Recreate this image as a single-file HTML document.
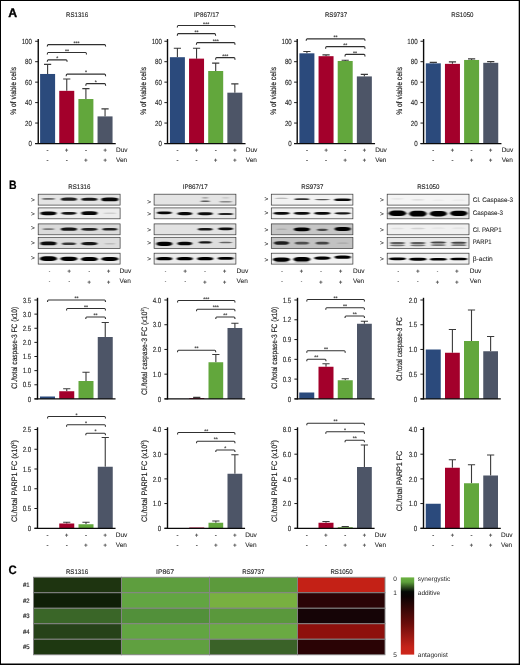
<!DOCTYPE html>
<html lang="en"><head><meta charset="utf-8"><title>Figure</title>
<style>html,body{margin:0;padding:0;background:#fff}body{width:520px;height:665px;overflow:hidden}svg{display:block}</style></head>
<body>
<svg width="520" height="665" viewBox="0 0 520 665" font-family="'Liberation Sans', sans-serif" text-rendering="geometricPrecision">
<defs><filter id="b1" x="-20%" y="-60%" width="140%" height="220%"><feGaussianBlur stdDeviation="1.0 0.5"/></filter><linearGradient id="cb" x1="0" y1="0" x2="0" y2="1"><stop offset="0" stop-color="#6cb241"/><stop offset="0.06" stop-color="#5da03a"/><stop offset="0.185" stop-color="#050805"/><stop offset="0.25" stop-color="#0c0203"/><stop offset="0.6" stop-color="#6a0d0b"/><stop offset="0.9" stop-color="#c4231a"/><stop offset="1" stop-color="#cf271b"/></linearGradient></defs>
<rect x="0" y="0" width="520" height="665" fill="#fff"/>
<text x="8.20" y="16.90" font-size="12.3" text-anchor="start" font-weight="bold" fill="#000"  stroke="#000" stroke-width="0.35">A</text>
<text x="9.10" y="189.00" font-size="12.2" text-anchor="start" font-weight="bold" fill="#000"  textLength="7.58" lengthAdjust="spacingAndGlyphs" stroke="#000" stroke-width="0.2">B</text>
<text x="8.40" y="574.20" font-size="12.3" text-anchor="start" font-weight="bold" fill="#000"  textLength="8.26" lengthAdjust="spacingAndGlyphs" stroke="#000" stroke-width="0.2">C</text>
<path d="M47.60,73.97 V64.36 M44.00,64.36 H51.20" stroke="#3a3a3a" stroke-width="1.1" fill="none"/>
<rect x="40.10" y="73.97" width="15.00" height="69.53" fill="#2b4a7c"/>
<path d="M66.75,90.84 V78.98 M63.15,78.98 H70.35" stroke="#3a3a3a" stroke-width="1.1" fill="none"/>
<rect x="59.25" y="90.84" width="15.00" height="52.66" fill="#a3002b"/>
<path d="M85.90,99.02 V88.59 M82.30,88.59 H89.50" stroke="#3a3a3a" stroke-width="1.1" fill="none"/>
<rect x="78.40" y="99.02" width="15.00" height="44.48" fill="#62a73c"/>
<path d="M105.05,116.40 V108.84 M101.45,108.84 H108.65" stroke="#3a3a3a" stroke-width="1.1" fill="none"/>
<rect x="97.55" y="116.40" width="15.00" height="27.10" fill="#4d5567"/>
<path d="M38.25,39.05 V144.00" stroke="#0a0a0a" stroke-width="1.4" fill="none"/>
<path d="M35.15,143.50 H115.75" stroke="#0a0a0a" stroke-width="1.25" fill="none"/>
<path d="M35.15,143.50 H38.25" stroke="#111" stroke-width="0.95" fill="none"/>
<text x="32.00" y="146.15" font-size="7.4" text-anchor="end" font-weight="normal" fill="#1e1e1e"  textLength="3.46" lengthAdjust="spacingAndGlyphs" stroke="#1e1e1e" stroke-width="0.1">0</text>
<path d="M35.15,123.05 H38.25" stroke="#111" stroke-width="0.95" fill="none"/>
<text x="32.00" y="125.70" font-size="7.4" text-anchor="end" font-weight="normal" fill="#1e1e1e"  textLength="6.91" lengthAdjust="spacingAndGlyphs" stroke="#1e1e1e" stroke-width="0.1">20</text>
<path d="M35.15,102.60 H38.25" stroke="#111" stroke-width="0.95" fill="none"/>
<text x="32.00" y="105.25" font-size="7.4" text-anchor="end" font-weight="normal" fill="#1e1e1e"  textLength="6.91" lengthAdjust="spacingAndGlyphs" stroke="#1e1e1e" stroke-width="0.1">40</text>
<path d="M35.15,82.15 H38.25" stroke="#111" stroke-width="0.95" fill="none"/>
<text x="32.00" y="84.80" font-size="7.4" text-anchor="end" font-weight="normal" fill="#1e1e1e"  textLength="6.91" lengthAdjust="spacingAndGlyphs" stroke="#1e1e1e" stroke-width="0.1">60</text>
<path d="M35.15,61.70 H38.25" stroke="#111" stroke-width="0.95" fill="none"/>
<text x="32.00" y="64.35" font-size="7.4" text-anchor="end" font-weight="normal" fill="#1e1e1e"  textLength="6.91" lengthAdjust="spacingAndGlyphs" stroke="#1e1e1e" stroke-width="0.1">80</text>
<path d="M35.15,41.25 H38.25" stroke="#111" stroke-width="0.95" fill="none"/>
<text x="32.00" y="43.90" font-size="7.4" text-anchor="end" font-weight="normal" fill="#1e1e1e"  textLength="10.37" lengthAdjust="spacingAndGlyphs" stroke="#1e1e1e" stroke-width="0.1">100</text>
<path d="M47.30,46.60 Q47.30,44.60 48.20,44.60 L104.70,44.60 Q105.60,44.60 105.60,46.60" fill="none" stroke="#303030" stroke-width="1.2"/>
<text x="76.45" y="44.80" font-size="5.2" text-anchor="middle" font-weight="normal" fill="#333"  stroke="#333" stroke-width="0.15">***</text>
<path d="M47.30,54.50 Q47.30,52.50 48.20,52.50 L85.60,52.50 Q86.50,52.50 86.50,54.50" fill="none" stroke="#303030" stroke-width="1.2"/>
<text x="66.90" y="52.70" font-size="5.2" text-anchor="middle" font-weight="normal" fill="#333"  stroke="#333" stroke-width="0.15">**</text>
<path d="M47.30,61.80 Q47.30,59.80 48.20,59.80 L66.20,59.80 Q67.10,59.80 67.10,61.80" fill="none" stroke="#303030" stroke-width="1.2"/>
<text x="57.20" y="60.00" font-size="5.2" text-anchor="middle" font-weight="normal" fill="#333"  stroke="#333" stroke-width="0.15">*</text>
<path d="M66.20,76.20 Q66.20,74.20 67.10,74.20 L104.70,74.20 Q105.60,74.20 105.60,76.20" fill="none" stroke="#303030" stroke-width="1.2"/>
<text x="85.90" y="74.40" font-size="5.2" text-anchor="middle" font-weight="normal" fill="#333"  stroke="#333" stroke-width="0.15">*</text>
<path d="M85.80,85.70 Q85.80,83.70 86.70,83.70 L104.70,83.70 Q105.60,83.70 105.60,85.70" fill="none" stroke="#303030" stroke-width="1.2"/>
<text x="95.70" y="83.90" font-size="5.2" text-anchor="middle" font-weight="normal" fill="#333"  stroke="#333" stroke-width="0.15">*</text>
<text x="77.10" y="17.00" font-size="6.7" text-anchor="middle" font-weight="normal" fill="#1e1e1e" textLength="22.1" lengthAdjust="spacingAndGlyphs" stroke="#1e1e1e" stroke-width="0.12">RS1316</text>
<text transform="translate(15.80,90.80) rotate(-90)" font-size="8.1" text-anchor="middle" fill="#1e1e1e" textLength="47.9" lengthAdjust="spacingAndGlyphs" stroke="#1e1e1e" stroke-width="0.18">% of viable cells</text>
<text x="47.60" y="152.20" font-size="6.0" text-anchor="middle" font-weight="normal" fill="#444"  stroke="#444" stroke-width="0.12">-</text>
<text x="66.75" y="152.42" font-size="5.6" text-anchor="middle" font-weight="normal" fill="#3a3a3a"  stroke="#3a3a3a" stroke-width="0.28">+</text>
<text x="85.90" y="152.20" font-size="6.0" text-anchor="middle" font-weight="normal" fill="#444"  stroke="#444" stroke-width="0.12">-</text>
<text x="105.05" y="152.42" font-size="5.6" text-anchor="middle" font-weight="normal" fill="#3a3a3a"  stroke="#3a3a3a" stroke-width="0.28">+</text>
<text x="47.60" y="162.20" font-size="6.0" text-anchor="middle" font-weight="normal" fill="#444"  stroke="#444" stroke-width="0.12">-</text>
<text x="66.75" y="162.20" font-size="6.0" text-anchor="middle" font-weight="normal" fill="#444"  stroke="#444" stroke-width="0.12">-</text>
<text x="85.90" y="162.42" font-size="5.6" text-anchor="middle" font-weight="normal" fill="#3a3a3a"  stroke="#3a3a3a" stroke-width="0.28">+</text>
<text x="105.05" y="162.42" font-size="5.6" text-anchor="middle" font-weight="normal" fill="#3a3a3a"  stroke="#3a3a3a" stroke-width="0.28">+</text>
<text x="115.95" y="152.20" font-size="6.5" text-anchor="start" font-weight="normal" fill="#1e1e1e"  stroke="#1e1e1e" stroke-width="0.08">Duv</text>
<text x="115.95" y="162.10" font-size="6.5" text-anchor="start" font-weight="normal" fill="#1e1e1e"  stroke="#1e1e1e" stroke-width="0.08">Ven</text>
<path d="M177.40,57.20 V48.20 M173.80,48.20 H181.00" stroke="#3a3a3a" stroke-width="1.1" fill="none"/>
<rect x="169.90" y="57.20" width="15.00" height="86.30" fill="#2b4a7c"/>
<path d="M196.55,58.63 V48.20 M192.95,48.20 H200.15" stroke="#3a3a3a" stroke-width="1.1" fill="none"/>
<rect x="189.05" y="58.63" width="15.00" height="84.87" fill="#a3002b"/>
<path d="M215.70,71.00 V63.13 M212.10,63.13 H219.30" stroke="#3a3a3a" stroke-width="1.1" fill="none"/>
<rect x="208.20" y="71.00" width="15.00" height="72.50" fill="#62a73c"/>
<path d="M234.85,92.68 V83.89 M231.25,83.89 H238.45" stroke="#3a3a3a" stroke-width="1.1" fill="none"/>
<rect x="227.35" y="92.68" width="15.00" height="50.82" fill="#4d5567"/>
<path d="M167.50,39.05 V144.00" stroke="#0a0a0a" stroke-width="1.4" fill="none"/>
<path d="M164.40,143.50 H245.55" stroke="#0a0a0a" stroke-width="1.25" fill="none"/>
<path d="M164.40,143.50 H167.50" stroke="#111" stroke-width="0.95" fill="none"/>
<text x="162.00" y="146.15" font-size="7.4" text-anchor="end" font-weight="normal" fill="#1e1e1e"  textLength="3.46" lengthAdjust="spacingAndGlyphs" stroke="#1e1e1e" stroke-width="0.1">0</text>
<path d="M164.40,123.05 H167.50" stroke="#111" stroke-width="0.95" fill="none"/>
<text x="162.00" y="125.70" font-size="7.4" text-anchor="end" font-weight="normal" fill="#1e1e1e"  textLength="6.91" lengthAdjust="spacingAndGlyphs" stroke="#1e1e1e" stroke-width="0.1">20</text>
<path d="M164.40,102.60 H167.50" stroke="#111" stroke-width="0.95" fill="none"/>
<text x="162.00" y="105.25" font-size="7.4" text-anchor="end" font-weight="normal" fill="#1e1e1e"  textLength="6.91" lengthAdjust="spacingAndGlyphs" stroke="#1e1e1e" stroke-width="0.1">40</text>
<path d="M164.40,82.15 H167.50" stroke="#111" stroke-width="0.95" fill="none"/>
<text x="162.00" y="84.80" font-size="7.4" text-anchor="end" font-weight="normal" fill="#1e1e1e"  textLength="6.91" lengthAdjust="spacingAndGlyphs" stroke="#1e1e1e" stroke-width="0.1">60</text>
<path d="M164.40,61.70 H167.50" stroke="#111" stroke-width="0.95" fill="none"/>
<text x="162.00" y="64.35" font-size="7.4" text-anchor="end" font-weight="normal" fill="#1e1e1e"  textLength="6.91" lengthAdjust="spacingAndGlyphs" stroke="#1e1e1e" stroke-width="0.1">80</text>
<path d="M164.40,41.25 H167.50" stroke="#111" stroke-width="0.95" fill="none"/>
<text x="162.00" y="43.90" font-size="7.4" text-anchor="end" font-weight="normal" fill="#1e1e1e"  textLength="10.37" lengthAdjust="spacingAndGlyphs" stroke="#1e1e1e" stroke-width="0.1">100</text>
<path d="M177.30,27.50 Q177.30,25.50 178.20,25.50 L234.10,25.50 Q235.00,25.50 235.00,27.50" fill="none" stroke="#303030" stroke-width="1.2"/>
<text x="206.15" y="25.70" font-size="5.2" text-anchor="middle" font-weight="normal" fill="#333"  stroke="#333" stroke-width="0.15">***</text>
<path d="M177.30,35.70 Q177.30,33.70 178.20,33.70 L214.70,33.70 Q215.60,33.70 215.60,35.70" fill="none" stroke="#303030" stroke-width="1.2"/>
<text x="196.45" y="33.90" font-size="5.2" text-anchor="middle" font-weight="normal" fill="#333"  stroke="#333" stroke-width="0.15">**</text>
<path d="M196.40,44.70 Q196.40,42.70 197.30,42.70 L234.10,42.70 Q235.00,42.70 235.00,44.70" fill="none" stroke="#303030" stroke-width="1.2"/>
<text x="215.70" y="42.90" font-size="5.2" text-anchor="middle" font-weight="normal" fill="#333"  stroke="#333" stroke-width="0.15">***</text>
<path d="M215.60,59.70 Q215.60,57.70 216.50,57.70 L234.10,57.70 Q235.00,57.70 235.00,59.70" fill="none" stroke="#303030" stroke-width="1.2"/>
<text x="225.30" y="57.90" font-size="5.2" text-anchor="middle" font-weight="normal" fill="#333"  stroke="#333" stroke-width="0.15">***</text>
<text x="206.60" y="17.00" font-size="6.7" text-anchor="middle" font-weight="normal" fill="#1e1e1e" textLength="25.0" lengthAdjust="spacingAndGlyphs" stroke="#1e1e1e" stroke-width="0.12">IP867/17</text>
<text transform="translate(145.80,90.80) rotate(-90)" font-size="8.1" text-anchor="middle" fill="#1e1e1e" textLength="47.9" lengthAdjust="spacingAndGlyphs" stroke="#1e1e1e" stroke-width="0.18">% of viable cells</text>
<text x="177.40" y="152.20" font-size="6.0" text-anchor="middle" font-weight="normal" fill="#444"  stroke="#444" stroke-width="0.12">-</text>
<text x="196.55" y="152.42" font-size="5.6" text-anchor="middle" font-weight="normal" fill="#3a3a3a"  stroke="#3a3a3a" stroke-width="0.28">+</text>
<text x="215.70" y="152.20" font-size="6.0" text-anchor="middle" font-weight="normal" fill="#444"  stroke="#444" stroke-width="0.12">-</text>
<text x="234.85" y="152.42" font-size="5.6" text-anchor="middle" font-weight="normal" fill="#3a3a3a"  stroke="#3a3a3a" stroke-width="0.28">+</text>
<text x="177.40" y="162.20" font-size="6.0" text-anchor="middle" font-weight="normal" fill="#444"  stroke="#444" stroke-width="0.12">-</text>
<text x="196.55" y="162.20" font-size="6.0" text-anchor="middle" font-weight="normal" fill="#444"  stroke="#444" stroke-width="0.12">-</text>
<text x="215.70" y="162.42" font-size="5.6" text-anchor="middle" font-weight="normal" fill="#3a3a3a"  stroke="#3a3a3a" stroke-width="0.28">+</text>
<text x="234.85" y="162.42" font-size="5.6" text-anchor="middle" font-weight="normal" fill="#3a3a3a"  stroke="#3a3a3a" stroke-width="0.28">+</text>
<text x="245.75" y="152.20" font-size="6.5" text-anchor="start" font-weight="normal" fill="#1e1e1e"  stroke="#1e1e1e" stroke-width="0.08">Duv</text>
<text x="245.75" y="162.10" font-size="6.5" text-anchor="start" font-weight="normal" fill="#1e1e1e"  stroke="#1e1e1e" stroke-width="0.08">Ven</text>
<path d="M306.90,53.32 V51.48 M303.30,51.48 H310.50" stroke="#3a3a3a" stroke-width="1.1" fill="none"/>
<rect x="299.40" y="53.32" width="15.00" height="90.18" fill="#2b4a7c"/>
<path d="M326.05,56.18 V54.85 M322.45,54.85 H329.65" stroke="#3a3a3a" stroke-width="1.1" fill="none"/>
<rect x="318.55" y="56.18" width="15.00" height="87.32" fill="#a3002b"/>
<path d="M345.20,60.98 V60.27 M341.60,60.27 H348.80" stroke="#3a3a3a" stroke-width="1.1" fill="none"/>
<rect x="337.70" y="60.98" width="15.00" height="82.52" fill="#62a73c"/>
<path d="M364.35,76.42 V74.38 M360.75,74.38 H367.95" stroke="#3a3a3a" stroke-width="1.1" fill="none"/>
<rect x="356.85" y="76.42" width="15.00" height="67.08" fill="#4d5567"/>
<path d="M297.20,39.05 V144.00" stroke="#0a0a0a" stroke-width="1.4" fill="none"/>
<path d="M294.10,143.50 H375.05" stroke="#0a0a0a" stroke-width="1.25" fill="none"/>
<path d="M294.10,143.50 H297.20" stroke="#111" stroke-width="0.95" fill="none"/>
<text x="291.80" y="146.15" font-size="7.4" text-anchor="end" font-weight="normal" fill="#1e1e1e"  textLength="3.46" lengthAdjust="spacingAndGlyphs" stroke="#1e1e1e" stroke-width="0.1">0</text>
<path d="M294.10,123.05 H297.20" stroke="#111" stroke-width="0.95" fill="none"/>
<text x="291.80" y="125.70" font-size="7.4" text-anchor="end" font-weight="normal" fill="#1e1e1e"  textLength="6.91" lengthAdjust="spacingAndGlyphs" stroke="#1e1e1e" stroke-width="0.1">20</text>
<path d="M294.10,102.60 H297.20" stroke="#111" stroke-width="0.95" fill="none"/>
<text x="291.80" y="105.25" font-size="7.4" text-anchor="end" font-weight="normal" fill="#1e1e1e"  textLength="6.91" lengthAdjust="spacingAndGlyphs" stroke="#1e1e1e" stroke-width="0.1">40</text>
<path d="M294.10,82.15 H297.20" stroke="#111" stroke-width="0.95" fill="none"/>
<text x="291.80" y="84.80" font-size="7.4" text-anchor="end" font-weight="normal" fill="#1e1e1e"  textLength="6.91" lengthAdjust="spacingAndGlyphs" stroke="#1e1e1e" stroke-width="0.1">60</text>
<path d="M294.10,61.70 H297.20" stroke="#111" stroke-width="0.95" fill="none"/>
<text x="291.80" y="64.35" font-size="7.4" text-anchor="end" font-weight="normal" fill="#1e1e1e"  textLength="6.91" lengthAdjust="spacingAndGlyphs" stroke="#1e1e1e" stroke-width="0.1">80</text>
<path d="M294.10,41.25 H297.20" stroke="#111" stroke-width="0.95" fill="none"/>
<text x="291.80" y="43.90" font-size="7.4" text-anchor="end" font-weight="normal" fill="#1e1e1e"  textLength="10.37" lengthAdjust="spacingAndGlyphs" stroke="#1e1e1e" stroke-width="0.1">100</text>
<path d="M306.20,40.80 Q306.20,38.80 307.10,38.80 L364.10,38.80 Q365.00,38.80 365.00,40.80" fill="none" stroke="#303030" stroke-width="1.2"/>
<text x="335.60" y="39.00" font-size="5.2" text-anchor="middle" font-weight="normal" fill="#333"  stroke="#333" stroke-width="0.15">**</text>
<path d="M325.60,48.70 Q325.60,46.70 326.50,46.70 L364.10,46.70 Q365.00,46.70 365.00,48.70" fill="none" stroke="#303030" stroke-width="1.2"/>
<text x="345.30" y="46.90" font-size="5.2" text-anchor="middle" font-weight="normal" fill="#333"  stroke="#333" stroke-width="0.15">**</text>
<path d="M345.00,56.40 Q345.00,54.40 345.90,54.40 L364.10,54.40 Q365.00,54.40 365.00,56.40" fill="none" stroke="#303030" stroke-width="1.2"/>
<text x="355.00" y="54.60" font-size="5.2" text-anchor="middle" font-weight="normal" fill="#333"  stroke="#333" stroke-width="0.15">**</text>
<text x="336.00" y="17.00" font-size="6.7" text-anchor="middle" font-weight="normal" fill="#1e1e1e" textLength="22.1" lengthAdjust="spacingAndGlyphs" stroke="#1e1e1e" stroke-width="0.12">RS9737</text>
<text transform="translate(275.50,90.80) rotate(-90)" font-size="8.1" text-anchor="middle" fill="#1e1e1e" textLength="47.9" lengthAdjust="spacingAndGlyphs" stroke="#1e1e1e" stroke-width="0.18">% of viable cells</text>
<text x="306.90" y="152.20" font-size="6.0" text-anchor="middle" font-weight="normal" fill="#444"  stroke="#444" stroke-width="0.12">-</text>
<text x="326.05" y="152.42" font-size="5.6" text-anchor="middle" font-weight="normal" fill="#3a3a3a"  stroke="#3a3a3a" stroke-width="0.28">+</text>
<text x="345.20" y="152.20" font-size="6.0" text-anchor="middle" font-weight="normal" fill="#444"  stroke="#444" stroke-width="0.12">-</text>
<text x="364.35" y="152.42" font-size="5.6" text-anchor="middle" font-weight="normal" fill="#3a3a3a"  stroke="#3a3a3a" stroke-width="0.28">+</text>
<text x="306.90" y="162.20" font-size="6.0" text-anchor="middle" font-weight="normal" fill="#444"  stroke="#444" stroke-width="0.12">-</text>
<text x="326.05" y="162.20" font-size="6.0" text-anchor="middle" font-weight="normal" fill="#444"  stroke="#444" stroke-width="0.12">-</text>
<text x="345.20" y="162.42" font-size="5.6" text-anchor="middle" font-weight="normal" fill="#3a3a3a"  stroke="#3a3a3a" stroke-width="0.28">+</text>
<text x="364.35" y="162.42" font-size="5.6" text-anchor="middle" font-weight="normal" fill="#3a3a3a"  stroke="#3a3a3a" stroke-width="0.28">+</text>
<text x="375.25" y="152.20" font-size="6.5" text-anchor="start" font-weight="normal" fill="#1e1e1e"  stroke="#1e1e1e" stroke-width="0.08">Duv</text>
<text x="375.25" y="162.10" font-size="6.5" text-anchor="start" font-weight="normal" fill="#1e1e1e"  stroke="#1e1e1e" stroke-width="0.08">Ven</text>
<path d="M433.30,63.34 V62.42 M429.70,62.42 H436.90" stroke="#3a3a3a" stroke-width="1.1" fill="none"/>
<rect x="425.80" y="63.34" width="15.00" height="80.16" fill="#2b4a7c"/>
<path d="M452.45,63.85 V61.90 M448.85,61.90 H456.05" stroke="#3a3a3a" stroke-width="1.1" fill="none"/>
<rect x="444.95" y="63.85" width="15.00" height="79.65" fill="#a3002b"/>
<path d="M471.60,59.96 V58.84 M468.00,58.84 H475.20" stroke="#3a3a3a" stroke-width="1.1" fill="none"/>
<rect x="464.10" y="59.96" width="15.00" height="83.54" fill="#62a73c"/>
<path d="M490.75,62.82 V61.60 M487.15,61.60 H494.35" stroke="#3a3a3a" stroke-width="1.1" fill="none"/>
<rect x="483.25" y="62.82" width="15.00" height="80.68" fill="#4d5567"/>
<path d="M423.60,39.05 V144.00" stroke="#0a0a0a" stroke-width="1.4" fill="none"/>
<path d="M420.50,143.50 H501.45" stroke="#0a0a0a" stroke-width="1.25" fill="none"/>
<path d="M420.50,143.50 H423.60" stroke="#111" stroke-width="0.95" fill="none"/>
<text x="417.70" y="146.15" font-size="7.4" text-anchor="end" font-weight="normal" fill="#1e1e1e"  textLength="3.46" lengthAdjust="spacingAndGlyphs" stroke="#1e1e1e" stroke-width="0.1">0</text>
<path d="M420.50,123.05 H423.60" stroke="#111" stroke-width="0.95" fill="none"/>
<text x="417.70" y="125.70" font-size="7.4" text-anchor="end" font-weight="normal" fill="#1e1e1e"  textLength="6.91" lengthAdjust="spacingAndGlyphs" stroke="#1e1e1e" stroke-width="0.1">20</text>
<path d="M420.50,102.60 H423.60" stroke="#111" stroke-width="0.95" fill="none"/>
<text x="417.70" y="105.25" font-size="7.4" text-anchor="end" font-weight="normal" fill="#1e1e1e"  textLength="6.91" lengthAdjust="spacingAndGlyphs" stroke="#1e1e1e" stroke-width="0.1">40</text>
<path d="M420.50,82.15 H423.60" stroke="#111" stroke-width="0.95" fill="none"/>
<text x="417.70" y="84.80" font-size="7.4" text-anchor="end" font-weight="normal" fill="#1e1e1e"  textLength="6.91" lengthAdjust="spacingAndGlyphs" stroke="#1e1e1e" stroke-width="0.1">60</text>
<path d="M420.50,61.70 H423.60" stroke="#111" stroke-width="0.95" fill="none"/>
<text x="417.70" y="64.35" font-size="7.4" text-anchor="end" font-weight="normal" fill="#1e1e1e"  textLength="6.91" lengthAdjust="spacingAndGlyphs" stroke="#1e1e1e" stroke-width="0.1">80</text>
<path d="M420.50,41.25 H423.60" stroke="#111" stroke-width="0.95" fill="none"/>
<text x="417.70" y="43.90" font-size="7.4" text-anchor="end" font-weight="normal" fill="#1e1e1e"  textLength="10.37" lengthAdjust="spacingAndGlyphs" stroke="#1e1e1e" stroke-width="0.1">100</text>
<text x="462.40" y="17.00" font-size="6.7" text-anchor="middle" font-weight="normal" fill="#1e1e1e" textLength="22.2" lengthAdjust="spacingAndGlyphs" stroke="#1e1e1e" stroke-width="0.12">RS1050</text>
<text transform="translate(401.50,90.80) rotate(-90)" font-size="8.1" text-anchor="middle" fill="#1e1e1e" textLength="47.9" lengthAdjust="spacingAndGlyphs" stroke="#1e1e1e" stroke-width="0.18">% of viable cells</text>
<text x="433.30" y="152.20" font-size="6.0" text-anchor="middle" font-weight="normal" fill="#444"  stroke="#444" stroke-width="0.12">-</text>
<text x="452.45" y="152.42" font-size="5.6" text-anchor="middle" font-weight="normal" fill="#3a3a3a"  stroke="#3a3a3a" stroke-width="0.28">+</text>
<text x="471.60" y="152.20" font-size="6.0" text-anchor="middle" font-weight="normal" fill="#444"  stroke="#444" stroke-width="0.12">-</text>
<text x="490.75" y="152.42" font-size="5.6" text-anchor="middle" font-weight="normal" fill="#3a3a3a"  stroke="#3a3a3a" stroke-width="0.28">+</text>
<text x="433.30" y="162.20" font-size="6.0" text-anchor="middle" font-weight="normal" fill="#444"  stroke="#444" stroke-width="0.12">-</text>
<text x="452.45" y="162.20" font-size="6.0" text-anchor="middle" font-weight="normal" fill="#444"  stroke="#444" stroke-width="0.12">-</text>
<text x="471.60" y="162.42" font-size="5.6" text-anchor="middle" font-weight="normal" fill="#3a3a3a"  stroke="#3a3a3a" stroke-width="0.28">+</text>
<text x="490.75" y="162.42" font-size="5.6" text-anchor="middle" font-weight="normal" fill="#3a3a3a"  stroke="#3a3a3a" stroke-width="0.28">+</text>
<text x="501.65" y="152.20" font-size="6.5" text-anchor="start" font-weight="normal" fill="#1e1e1e"  stroke="#1e1e1e" stroke-width="0.08">Duv</text>
<text x="501.65" y="162.10" font-size="6.5" text-anchor="start" font-weight="normal" fill="#1e1e1e"  stroke="#1e1e1e" stroke-width="0.08">Ven</text>
<text x="79.35" y="188.90" font-size="6.7" text-anchor="middle" font-weight="normal" fill="#1e1e1e" textLength="22.1" lengthAdjust="spacingAndGlyphs" stroke="#1e1e1e" stroke-width="0.12">RS1316</text>
<rect x="38.20" y="194.20" width="81.90" height="10.90" fill="#e4e4e4"/>
<g filter="url(#b1)">
<rect x="41.89" y="197.90" width="13.10" height="1.90" rx="4.19" ry="0.95" fill="#050505" fill-opacity="0.55"/>
<rect x="60.82" y="197.50" width="16.18" height="3.30" rx="5.18" ry="1.65" fill="#050505" fill-opacity="0.85"/>
<rect x="81.30" y="197.70" width="16.18" height="3.10" rx="5.18" ry="1.55" fill="#050505" fill-opacity="0.90"/>
<rect x="101.26" y="197.60" width="17.20" height="3.70" rx="5.50" ry="1.85" fill="#050505" fill-opacity="0.97"/>
</g>
<rect x="38.20" y="194.20" width="81.90" height="10.90" fill="none" stroke="#333" stroke-width="0.7"/>
<text x="32.80" y="201.80" font-size="6.5" text-anchor="middle" font-weight="normal" fill="#333"  stroke="#333" stroke-width="0.1">&gt;</text>
<rect x="38.20" y="207.90" width="81.90" height="10.90" fill="#ececec"/>
<g filter="url(#b1)">
<rect x="40.35" y="211.50" width="16.18" height="3.70" rx="5.18" ry="1.85" fill="#050505" fill-opacity="0.97"/>
<rect x="61.34" y="212.00" width="15.15" height="2.70" rx="4.85" ry="1.35" fill="#050505" fill-opacity="0.90"/>
<rect x="81.30" y="211.30" width="16.18" height="3.70" rx="5.18" ry="1.85" fill="#050505" fill-opacity="0.97"/>
<rect x="103.31" y="212.60" width="13.10" height="1.50" rx="4.19" ry="0.75" fill="#050505" fill-opacity="0.12"/>
</g>
<rect x="38.20" y="207.90" width="81.90" height="10.90" fill="none" stroke="#333" stroke-width="0.7"/>
<text x="32.80" y="215.50" font-size="6.5" text-anchor="middle" font-weight="normal" fill="#333"  stroke="#333" stroke-width="0.1">&gt;</text>
<rect x="38.20" y="223.90" width="81.90" height="10.90" fill="#dadada"/>
<g filter="url(#b1)">
<rect x="42.40" y="228.20" width="12.08" height="1.70" rx="3.87" ry="0.85" fill="#050505" fill-opacity="0.45"/>
<rect x="60.82" y="227.60" width="16.18" height="3.10" rx="5.18" ry="1.55" fill="#050505" fill-opacity="0.90"/>
<rect x="81.30" y="227.90" width="16.18" height="2.90" rx="5.18" ry="1.45" fill="#050505" fill-opacity="0.85"/>
<rect x="102.29" y="227.90" width="15.15" height="2.50" rx="4.85" ry="1.25" fill="#050505" fill-opacity="0.85"/>
</g>
<rect x="38.20" y="223.90" width="81.90" height="10.90" fill="none" stroke="#333" stroke-width="0.7"/>
<text x="32.80" y="229.80" font-size="6.5" text-anchor="middle" font-weight="normal" fill="#333"  stroke="#333" stroke-width="0.1">&gt;</text>
<rect x="38.20" y="237.30" width="81.90" height="11.10" fill="#dcdcdc"/>
<g filter="url(#b1)">
<rect x="40.35" y="241.60" width="16.18" height="3.70" rx="5.18" ry="1.85" fill="#050505" fill-opacity="0.95"/>
<rect x="61.85" y="242.40" width="14.13" height="2.50" rx="4.52" ry="1.25" fill="#050505" fill-opacity="0.75"/>
<rect x="81.30" y="241.90" width="16.18" height="3.30" rx="5.18" ry="1.65" fill="#050505" fill-opacity="0.90"/>
<rect x="104.33" y="242.90" width="11.06" height="1.50" rx="3.54" ry="0.75" fill="#050505" fill-opacity="0.15"/>
</g>
<rect x="38.20" y="237.30" width="81.90" height="11.10" fill="none" stroke="#333" stroke-width="0.7"/>
<text x="32.80" y="245.00" font-size="6.5" text-anchor="middle" font-weight="normal" fill="#333"  stroke="#333" stroke-width="0.1">&gt;</text>
<rect x="38.20" y="253.20" width="81.90" height="10.90" fill="#eeeeee"/>
<g filter="url(#b1)">
<rect x="39.84" y="256.30" width="17.20" height="4.70" rx="5.50" ry="2.35" fill="#050505" fill-opacity="1.00"/>
<rect x="60.31" y="256.70" width="17.20" height="4.30" rx="5.50" ry="2.15" fill="#050505" fill-opacity="1.00"/>
<rect x="80.79" y="257.10" width="17.20" height="3.90" rx="5.50" ry="1.95" fill="#050505" fill-opacity="1.00"/>
<rect x="101.26" y="257.00" width="17.20" height="3.90" rx="5.50" ry="1.95" fill="#050505" fill-opacity="1.00"/>
</g>
<rect x="38.20" y="253.20" width="81.90" height="10.90" fill="none" stroke="#333" stroke-width="0.7"/>
<text x="32.80" y="259.90" font-size="6.5" text-anchor="middle" font-weight="normal" fill="#333"  stroke="#333" stroke-width="0.1">&gt;</text>
<text x="49.40" y="272.68" font-size="4.6" text-anchor="middle" font-weight="normal" fill="#444"  stroke="#444" stroke-width="0.12">-</text>
<text x="69.20" y="273.32" font-size="5.6" text-anchor="middle" font-weight="normal" fill="#3a3a3a"  stroke="#3a3a3a" stroke-width="0.28">+</text>
<text x="89.20" y="272.68" font-size="4.6" text-anchor="middle" font-weight="normal" fill="#444"  stroke="#444" stroke-width="0.12">-</text>
<text x="108.70" y="273.32" font-size="5.6" text-anchor="middle" font-weight="normal" fill="#3a3a3a"  stroke="#3a3a3a" stroke-width="0.28">+</text>
<text x="49.40" y="282.88" font-size="4.6" text-anchor="middle" font-weight="normal" fill="#444"  stroke="#444" stroke-width="0.12">-</text>
<text x="69.20" y="282.88" font-size="4.6" text-anchor="middle" font-weight="normal" fill="#444"  stroke="#444" stroke-width="0.12">-</text>
<text x="89.20" y="283.52" font-size="5.6" text-anchor="middle" font-weight="normal" fill="#3a3a3a"  stroke="#3a3a3a" stroke-width="0.28">+</text>
<text x="108.70" y="283.52" font-size="5.6" text-anchor="middle" font-weight="normal" fill="#3a3a3a"  stroke="#3a3a3a" stroke-width="0.28">+</text>
<text x="119.60" y="273.10" font-size="6.5" text-anchor="start" font-weight="normal" fill="#1e1e1e"  stroke="#1e1e1e" stroke-width="0.08">Duv</text>
<text x="119.60" y="283.20" font-size="6.5" text-anchor="start" font-weight="normal" fill="#1e1e1e"  stroke="#1e1e1e" stroke-width="0.08">Ven</text>
<text x="195.20" y="188.90" font-size="6.7" text-anchor="middle" font-weight="normal" fill="#1e1e1e" textLength="25.0" lengthAdjust="spacingAndGlyphs" stroke="#1e1e1e" stroke-width="0.12">IP867/17</text>
<rect x="154.10" y="194.20" width="81.80" height="10.90" fill="#e4e4e4"/>
<g filter="url(#b1)">
<rect x="201.85" y="197.30" width="6.75" height="1.10" rx="2.16" ry="0.55" fill="#050505" fill-opacity="0.35"/>
<rect x="200.32" y="200.50" width="9.82" height="1.50" rx="3.14" ry="0.75" fill="#050505" fill-opacity="0.60"/>
<rect x="221.79" y="197.30" width="7.77" height="1.10" rx="2.49" ry="0.55" fill="#050505" fill-opacity="0.15"/>
<rect x="219.23" y="200.90" width="12.88" height="1.50" rx="4.12" ry="0.75" fill="#050505" fill-opacity="0.40"/>
</g>
<rect x="154.10" y="194.20" width="81.80" height="10.90" fill="none" stroke="#333" stroke-width="0.7"/>
<text x="149.10" y="203.80" font-size="6.5" text-anchor="middle" font-weight="normal" fill="#333"  stroke="#333" stroke-width="0.1">&gt;</text>
<rect x="154.10" y="207.90" width="81.80" height="10.90" fill="#e8e8e8"/>
<g filter="url(#b1)">
<rect x="156.86" y="211.40" width="14.93" height="2.90" rx="4.78" ry="1.45" fill="#050505" fill-opacity="0.97"/>
<rect x="177.31" y="211.90" width="14.93" height="3.30" rx="4.78" ry="1.65" fill="#050505" fill-opacity="0.97"/>
<rect x="197.76" y="212.30" width="14.93" height="2.90" rx="4.78" ry="1.45" fill="#050505" fill-opacity="0.95"/>
<rect x="218.21" y="212.90" width="14.93" height="2.10" rx="4.78" ry="1.05" fill="#050505" fill-opacity="0.85"/>
</g>
<rect x="154.10" y="207.90" width="81.80" height="10.90" fill="none" stroke="#333" stroke-width="0.7"/>
<text x="149.10" y="215.50" font-size="6.5" text-anchor="middle" font-weight="normal" fill="#333"  stroke="#333" stroke-width="0.1">&gt;</text>
<rect x="154.10" y="223.90" width="81.80" height="10.90" fill="#e2e2e2"/>
<g filter="url(#b1)">
<rect x="197.76" y="228.10" width="14.93" height="2.50" rx="4.78" ry="1.25" fill="#050505" fill-opacity="0.90"/>
<rect x="218.21" y="227.40" width="14.93" height="2.90" rx="4.78" ry="1.45" fill="#050505" fill-opacity="0.95"/>
</g>
<rect x="154.10" y="223.90" width="81.80" height="10.90" fill="none" stroke="#333" stroke-width="0.7"/>
<text x="149.10" y="231.60" font-size="6.5" text-anchor="middle" font-weight="normal" fill="#333"  stroke="#333" stroke-width="0.1">&gt;</text>
<rect x="154.10" y="237.30" width="81.80" height="11.10" fill="#dedede"/>
<g filter="url(#b1)">
<rect x="156.35" y="241.80" width="15.95" height="4.10" rx="5.10" ry="2.05" fill="#050505" fill-opacity="1.00"/>
<rect x="177.31" y="241.70" width="14.93" height="3.50" rx="4.78" ry="1.75" fill="#050505" fill-opacity="0.97"/>
<rect x="198.78" y="241.30" width="12.88" height="2.30" rx="4.12" ry="1.15" fill="#050505" fill-opacity="0.90"/>
<rect x="219.23" y="241.70" width="12.88" height="1.50" rx="4.12" ry="0.75" fill="#050505" fill-opacity="0.55"/>
</g>
<rect x="154.10" y="237.30" width="81.80" height="11.10" fill="none" stroke="#333" stroke-width="0.7"/>
<text x="149.10" y="245.30" font-size="6.5" text-anchor="middle" font-weight="normal" fill="#333"  stroke="#333" stroke-width="0.1">&gt;</text>
<rect x="154.10" y="253.20" width="81.80" height="10.90" fill="#ececec"/>
<g filter="url(#b1)">
<rect x="156.35" y="257.10" width="15.95" height="3.10" rx="5.10" ry="1.55" fill="#050505" fill-opacity="1.00"/>
<rect x="176.80" y="257.10" width="15.95" height="3.10" rx="5.10" ry="1.55" fill="#050505" fill-opacity="1.00"/>
<rect x="197.25" y="257.10" width="15.95" height="3.10" rx="5.10" ry="1.55" fill="#050505" fill-opacity="1.00"/>
<rect x="217.70" y="257.10" width="15.95" height="2.70" rx="5.10" ry="1.35" fill="#050505" fill-opacity="1.00"/>
</g>
<rect x="154.10" y="253.20" width="81.80" height="10.90" fill="none" stroke="#333" stroke-width="0.7"/>
<text x="149.10" y="260.90" font-size="6.5" text-anchor="middle" font-weight="normal" fill="#333"  stroke="#333" stroke-width="0.1">&gt;</text>
<text x="165.50" y="272.68" font-size="4.6" text-anchor="middle" font-weight="normal" fill="#444"  stroke="#444" stroke-width="0.12">-</text>
<text x="185.20" y="273.32" font-size="5.6" text-anchor="middle" font-weight="normal" fill="#3a3a3a"  stroke="#3a3a3a" stroke-width="0.28">+</text>
<text x="205.00" y="272.68" font-size="4.6" text-anchor="middle" font-weight="normal" fill="#444"  stroke="#444" stroke-width="0.12">-</text>
<text x="224.60" y="273.32" font-size="5.6" text-anchor="middle" font-weight="normal" fill="#3a3a3a"  stroke="#3a3a3a" stroke-width="0.28">+</text>
<text x="165.50" y="282.88" font-size="4.6" text-anchor="middle" font-weight="normal" fill="#444"  stroke="#444" stroke-width="0.12">-</text>
<text x="185.20" y="282.88" font-size="4.6" text-anchor="middle" font-weight="normal" fill="#444"  stroke="#444" stroke-width="0.12">-</text>
<text x="205.00" y="283.52" font-size="5.6" text-anchor="middle" font-weight="normal" fill="#3a3a3a"  stroke="#3a3a3a" stroke-width="0.28">+</text>
<text x="224.60" y="283.52" font-size="5.6" text-anchor="middle" font-weight="normal" fill="#3a3a3a"  stroke="#3a3a3a" stroke-width="0.28">+</text>
<text x="236.60" y="273.10" font-size="6.5" text-anchor="start" font-weight="normal" fill="#1e1e1e"  stroke="#1e1e1e" stroke-width="0.08">Duv</text>
<text x="236.60" y="283.20" font-size="6.5" text-anchor="start" font-weight="normal" fill="#1e1e1e"  stroke="#1e1e1e" stroke-width="0.08">Ven</text>
<text x="312.30" y="188.90" font-size="6.7" text-anchor="middle" font-weight="normal" fill="#1e1e1e" textLength="22.1" lengthAdjust="spacingAndGlyphs" stroke="#1e1e1e" stroke-width="0.12">RS9737</text>
<rect x="271.30" y="194.20" width="81.60" height="10.90" fill="#f2f2f2"/>
<g filter="url(#b1)">
<rect x="274.97" y="197.75" width="13.06" height="1.00" rx="4.18" ry="0.50" fill="#050505" fill-opacity="0.30"/>
<rect x="294.35" y="198.30" width="15.10" height="1.70" rx="4.83" ry="0.85" fill="#050505" fill-opacity="0.80"/>
<rect x="314.75" y="198.90" width="15.10" height="1.30" rx="4.83" ry="0.65" fill="#050505" fill-opacity="0.65"/>
<rect x="334.13" y="198.50" width="17.14" height="2.50" rx="5.48" ry="1.25" fill="#050505" fill-opacity="0.97"/>
</g>
<rect x="271.30" y="194.20" width="81.60" height="10.90" fill="none" stroke="#333" stroke-width="0.7"/>
<text x="266.40" y="201.10" font-size="6.5" text-anchor="middle" font-weight="normal" fill="#333"  stroke="#333" stroke-width="0.1">&gt;</text>
<rect x="271.30" y="207.90" width="81.60" height="10.90" fill="#f0f0f0"/>
<g filter="url(#b1)">
<rect x="273.44" y="211.90" width="16.12" height="2.90" rx="5.16" ry="1.45" fill="#050505" fill-opacity="0.97"/>
<rect x="293.84" y="212.00" width="16.12" height="2.70" rx="5.16" ry="1.35" fill="#050505" fill-opacity="0.95"/>
<rect x="314.24" y="211.90" width="16.12" height="2.90" rx="5.16" ry="1.45" fill="#050505" fill-opacity="0.97"/>
<rect x="334.64" y="212.20" width="16.12" height="2.30" rx="5.16" ry="1.15" fill="#050505" fill-opacity="0.90"/>
</g>
<rect x="271.30" y="207.90" width="81.60" height="10.90" fill="none" stroke="#333" stroke-width="0.7"/>
<text x="266.40" y="215.20" font-size="6.5" text-anchor="middle" font-weight="normal" fill="#333"  stroke="#333" stroke-width="0.1">&gt;</text>
<rect x="271.30" y="223.90" width="81.60" height="10.90" fill="#c6c6c6"/>
<g filter="url(#b1)">
<rect x="275.99" y="228.60" width="11.02" height="1.50" rx="3.53" ry="0.75" fill="#050505" fill-opacity="0.12"/>
<rect x="293.84" y="227.50" width="16.12" height="3.70" rx="5.16" ry="1.85" fill="#050505" fill-opacity="1.00"/>
<rect x="316.79" y="228.70" width="11.02" height="2.30" rx="3.53" ry="1.15" fill="#050505" fill-opacity="0.65"/>
<rect x="334.64" y="227.10" width="16.12" height="3.90" rx="5.16" ry="1.95" fill="#050505" fill-opacity="1.00"/>
</g>
<rect x="271.30" y="223.90" width="81.60" height="10.90" fill="none" stroke="#333" stroke-width="0.7"/>
<text x="266.40" y="232.00" font-size="6.5" text-anchor="middle" font-weight="normal" fill="#333"  stroke="#333" stroke-width="0.1">&gt;</text>
<rect x="271.30" y="237.30" width="81.60" height="11.10" fill="#c2c2c2"/>
<g filter="url(#b1)">
<rect x="273.95" y="241.20" width="15.10" height="3.50" rx="4.83" ry="1.75" fill="#050505" fill-opacity="0.85"/>
<rect x="294.86" y="241.80" width="14.08" height="2.70" rx="4.50" ry="1.35" fill="#050505" fill-opacity="0.60"/>
<rect x="315.77" y="241.70" width="13.06" height="2.90" rx="4.18" ry="1.45" fill="#050505" fill-opacity="0.65"/>
<rect x="337.19" y="242.20" width="11.02" height="1.90" rx="3.53" ry="0.95" fill="#050505" fill-opacity="0.10"/>
</g>
<rect x="271.30" y="237.30" width="81.60" height="11.10" fill="none" stroke="#333" stroke-width="0.7"/>
<text x="266.40" y="245.70" font-size="6.5" text-anchor="middle" font-weight="normal" fill="#333"  stroke="#333" stroke-width="0.1">&gt;</text>
<rect x="271.30" y="253.20" width="81.60" height="10.90" fill="#f2f2f2"/>
<g filter="url(#b1)">
<rect x="272.93" y="257.40" width="17.14" height="4.30" rx="5.48" ry="2.15" fill="#050505" fill-opacity="1.00"/>
<rect x="293.33" y="257.10" width="17.14" height="4.50" rx="5.48" ry="2.25" fill="#050505" fill-opacity="1.00"/>
<rect x="314.24" y="256.40" width="16.12" height="3.30" rx="5.16" ry="1.65" fill="#050505" fill-opacity="1.00"/>
<rect x="334.64" y="255.60" width="16.12" height="3.10" rx="5.16" ry="1.55" fill="#050505" fill-opacity="1.00"/>
<rect x="273.95" y="261.50" width="15.10" height="1.50" rx="4.83" ry="0.75" fill="#050505" fill-opacity="0.18"/>
<rect x="294.35" y="261.50" width="15.10" height="1.50" rx="4.83" ry="0.75" fill="#050505" fill-opacity="0.18"/>
</g>
<rect x="271.30" y="253.20" width="81.60" height="10.90" fill="none" stroke="#333" stroke-width="0.7"/>
<text x="266.40" y="261.80" font-size="6.5" text-anchor="middle" font-weight="normal" fill="#333"  stroke="#333" stroke-width="0.1">&gt;</text>
<text x="282.00" y="272.68" font-size="4.6" text-anchor="middle" font-weight="normal" fill="#444"  stroke="#444" stroke-width="0.12">-</text>
<text x="301.40" y="273.32" font-size="5.6" text-anchor="middle" font-weight="normal" fill="#3a3a3a"  stroke="#3a3a3a" stroke-width="0.28">+</text>
<text x="321.00" y="272.68" font-size="4.6" text-anchor="middle" font-weight="normal" fill="#444"  stroke="#444" stroke-width="0.12">-</text>
<text x="340.60" y="273.32" font-size="5.6" text-anchor="middle" font-weight="normal" fill="#3a3a3a"  stroke="#3a3a3a" stroke-width="0.28">+</text>
<text x="282.00" y="282.88" font-size="4.6" text-anchor="middle" font-weight="normal" fill="#444"  stroke="#444" stroke-width="0.12">-</text>
<text x="301.40" y="282.88" font-size="4.6" text-anchor="middle" font-weight="normal" fill="#444"  stroke="#444" stroke-width="0.12">-</text>
<text x="321.00" y="283.52" font-size="5.6" text-anchor="middle" font-weight="normal" fill="#3a3a3a"  stroke="#3a3a3a" stroke-width="0.28">+</text>
<text x="340.60" y="283.52" font-size="5.6" text-anchor="middle" font-weight="normal" fill="#3a3a3a"  stroke="#3a3a3a" stroke-width="0.28">+</text>
<text x="353.00" y="273.10" font-size="6.5" text-anchor="start" font-weight="normal" fill="#1e1e1e"  stroke="#1e1e1e" stroke-width="0.08">Duv</text>
<text x="353.00" y="283.20" font-size="6.5" text-anchor="start" font-weight="normal" fill="#1e1e1e"  stroke="#1e1e1e" stroke-width="0.08">Ven</text>
<text x="428.30" y="188.90" font-size="6.7" text-anchor="middle" font-weight="normal" fill="#1e1e1e" textLength="22.2" lengthAdjust="spacingAndGlyphs" stroke="#1e1e1e" stroke-width="0.12">RS1050</text>
<rect x="387.20" y="194.20" width="81.80" height="10.90" fill="#f4f4f4"/>
<g filter="url(#b1)">
<rect x="390.88" y="198.30" width="13.09" height="1.10" rx="4.19" ry="0.55" fill="#050505" fill-opacity="0.08"/>
<rect x="411.33" y="199.30" width="13.09" height="1.10" rx="4.19" ry="0.55" fill="#050505" fill-opacity="0.12"/>
<rect x="432.80" y="199.60" width="11.04" height="1.10" rx="3.53" ry="0.55" fill="#050505" fill-opacity="0.05"/>
<rect x="452.23" y="199.60" width="13.09" height="1.10" rx="4.19" ry="0.55" fill="#050505" fill-opacity="0.05"/>
</g>
<rect x="387.20" y="194.20" width="81.80" height="10.90" fill="none" stroke="#333" stroke-width="0.7"/>
<text x="382.00" y="201.80" font-size="6.5" text-anchor="middle" font-weight="normal" fill="#333"  stroke="#333" stroke-width="0.1">&gt;</text>
<rect x="387.20" y="207.90" width="81.80" height="10.90" fill="#e4e4e4"/>
<g filter="url(#b1)">
<rect x="388.63" y="210.60" width="17.59" height="5.50" rx="5.63" ry="2.75" fill="#050505" fill-opacity="1.00"/>
<rect x="409.08" y="210.80" width="17.59" height="5.70" rx="5.63" ry="2.85" fill="#050505" fill-opacity="1.00"/>
<rect x="429.74" y="210.90" width="17.18" height="5.50" rx="5.50" ry="2.75" fill="#050505" fill-opacity="1.00"/>
<rect x="450.19" y="210.70" width="17.18" height="5.30" rx="5.50" ry="2.65" fill="#050505" fill-opacity="1.00"/>
</g>
<rect x="387.20" y="207.90" width="81.80" height="10.90" fill="none" stroke="#333" stroke-width="0.7"/>
<text x="382.00" y="215.50" font-size="6.5" text-anchor="middle" font-weight="normal" fill="#333"  stroke="#333" stroke-width="0.1">&gt;</text>
<rect x="387.20" y="223.90" width="81.80" height="10.90" fill="#f0f0f0"/>
<g filter="url(#b1)">
<rect x="390.88" y="227.70" width="13.09" height="1.50" rx="4.19" ry="0.75" fill="#050505" fill-opacity="0.07"/>
<rect x="410.82" y="227.70" width="14.11" height="1.50" rx="4.52" ry="0.75" fill="#050505" fill-opacity="0.13"/>
<rect x="431.78" y="227.50" width="13.09" height="1.30" rx="4.19" ry="0.65" fill="#050505" fill-opacity="0.06"/>
<rect x="452.23" y="227.50" width="13.09" height="1.30" rx="4.19" ry="0.65" fill="#050505" fill-opacity="0.07"/>
</g>
<rect x="387.20" y="223.90" width="81.80" height="10.90" fill="none" stroke="#333" stroke-width="0.7"/>
<text x="382.00" y="232.20" font-size="6.5" text-anchor="middle" font-weight="normal" fill="#333"  stroke="#333" stroke-width="0.1">&gt;</text>
<rect x="387.20" y="237.30" width="81.80" height="11.10" fill="#e8e8e8"/>
<g filter="url(#b1)">
<rect x="389.86" y="241.90" width="15.13" height="2.10" rx="4.84" ry="1.05" fill="#050505" fill-opacity="0.60"/>
<rect x="389.86" y="244.50" width="15.13" height="1.70" rx="4.84" ry="0.85" fill="#050505" fill-opacity="0.50"/>
<rect x="410.31" y="241.90" width="15.13" height="2.10" rx="4.84" ry="1.05" fill="#050505" fill-opacity="0.60"/>
<rect x="410.31" y="244.50" width="15.13" height="1.70" rx="4.84" ry="0.85" fill="#050505" fill-opacity="0.50"/>
<rect x="430.76" y="241.50" width="15.13" height="2.10" rx="4.84" ry="1.05" fill="#050505" fill-opacity="0.70"/>
<rect x="430.76" y="244.20" width="15.13" height="1.70" rx="4.84" ry="0.85" fill="#050505" fill-opacity="0.50"/>
<rect x="451.21" y="241.70" width="15.13" height="2.10" rx="4.84" ry="1.05" fill="#050505" fill-opacity="0.70"/>
<rect x="451.21" y="244.30" width="15.13" height="1.70" rx="4.84" ry="0.85" fill="#050505" fill-opacity="0.50"/>
</g>
<rect x="387.20" y="237.30" width="81.80" height="11.10" fill="none" stroke="#333" stroke-width="0.7"/>
<text x="382.00" y="245.00" font-size="6.5" text-anchor="middle" font-weight="normal" fill="#333"  stroke="#333" stroke-width="0.1">&gt;</text>
<rect x="387.20" y="253.20" width="81.80" height="10.90" fill="#f2f2f2"/>
<g filter="url(#b1)">
<rect x="388.84" y="257.50" width="17.18" height="2.70" rx="5.50" ry="1.35" fill="#050505" fill-opacity="1.00"/>
<rect x="409.29" y="257.80" width="17.18" height="2.90" rx="5.50" ry="1.45" fill="#050505" fill-opacity="1.00"/>
<rect x="429.74" y="258.00" width="17.18" height="2.50" rx="5.50" ry="1.25" fill="#050505" fill-opacity="1.00"/>
<rect x="450.19" y="257.80" width="17.18" height="2.50" rx="5.50" ry="1.25" fill="#050505" fill-opacity="1.00"/>
</g>
<rect x="387.20" y="253.20" width="81.80" height="10.90" fill="none" stroke="#333" stroke-width="0.7"/>
<text x="382.00" y="260.90" font-size="6.5" text-anchor="middle" font-weight="normal" fill="#333"  stroke="#333" stroke-width="0.1">&gt;</text>
<text x="398.30" y="272.68" font-size="4.6" text-anchor="middle" font-weight="normal" fill="#444"  stroke="#444" stroke-width="0.12">-</text>
<text x="417.80" y="273.32" font-size="5.6" text-anchor="middle" font-weight="normal" fill="#3a3a3a"  stroke="#3a3a3a" stroke-width="0.28">+</text>
<text x="437.50" y="272.68" font-size="4.6" text-anchor="middle" font-weight="normal" fill="#444"  stroke="#444" stroke-width="0.12">-</text>
<text x="457.00" y="273.32" font-size="5.6" text-anchor="middle" font-weight="normal" fill="#3a3a3a"  stroke="#3a3a3a" stroke-width="0.28">+</text>
<text x="398.30" y="282.88" font-size="4.6" text-anchor="middle" font-weight="normal" fill="#444"  stroke="#444" stroke-width="0.12">-</text>
<text x="417.80" y="282.88" font-size="4.6" text-anchor="middle" font-weight="normal" fill="#444"  stroke="#444" stroke-width="0.12">-</text>
<text x="437.50" y="283.52" font-size="5.6" text-anchor="middle" font-weight="normal" fill="#3a3a3a"  stroke="#3a3a3a" stroke-width="0.28">+</text>
<text x="457.00" y="283.52" font-size="5.6" text-anchor="middle" font-weight="normal" fill="#3a3a3a"  stroke="#3a3a3a" stroke-width="0.28">+</text>
<text x="469.80" y="273.10" font-size="6.5" text-anchor="start" font-weight="normal" fill="#1e1e1e"  stroke="#1e1e1e" stroke-width="0.08">Duv</text>
<text x="469.80" y="283.20" font-size="6.5" text-anchor="start" font-weight="normal" fill="#1e1e1e"  stroke="#1e1e1e" stroke-width="0.08">Ven</text>
<text x="472.80" y="201.90" font-size="6.6" text-anchor="start" font-weight="normal" fill="#1e1e1e" textLength="40.3" lengthAdjust="spacingAndGlyphs" stroke="#1e1e1e" stroke-width="0.08">Cl. Caspase-3</text>
<text x="472.80" y="214.70" font-size="6.6" text-anchor="start" font-weight="normal" fill="#1e1e1e" textLength="30.3" lengthAdjust="spacingAndGlyphs" stroke="#1e1e1e" stroke-width="0.08">Caspase-3</text>
<text x="472.80" y="232.40" font-size="6.6" text-anchor="start" font-weight="normal" fill="#1e1e1e" textLength="28.8" lengthAdjust="spacingAndGlyphs" stroke="#1e1e1e" stroke-width="0.08">Cl. PARP1</text>
<text x="472.80" y="244.20" font-size="6.6" text-anchor="start" font-weight="normal" fill="#1e1e1e" textLength="18.8" lengthAdjust="spacingAndGlyphs" stroke="#1e1e1e" stroke-width="0.08">PARP1</text>
<text x="472.80" y="260.80" font-size="6.6" text-anchor="start" font-weight="normal" fill="#1e1e1e" textLength="20.0" lengthAdjust="spacingAndGlyphs" stroke="#1e1e1e" stroke-width="0.08">β-actin</text>
<rect x="40.00" y="396.50" width="15.00" height="2.40" fill="#2b4a7c"/>
<path d="M66.75,391.25 V388.75 M63.15,388.75 H70.35" stroke="#3a3a3a" stroke-width="1.1" fill="none"/>
<rect x="59.25" y="391.25" width="15.00" height="7.65" fill="#a3002b"/>
<path d="M86.00,381.00 V372.25 M82.40,372.25 H89.60" stroke="#3a3a3a" stroke-width="1.1" fill="none"/>
<rect x="78.50" y="381.00" width="15.00" height="17.90" fill="#62a73c"/>
<path d="M105.25,337.00 V322.50 M101.65,322.50 H108.85" stroke="#3a3a3a" stroke-width="1.1" fill="none"/>
<rect x="97.75" y="337.00" width="15.00" height="61.90" fill="#4d5567"/>
<path d="M37.50,297.80 V399.40" stroke="#0a0a0a" stroke-width="1.4" fill="none"/>
<path d="M34.50,398.90 H115.55" stroke="#0a0a0a" stroke-width="1.25" fill="none"/>
<path d="M34.40,398.90 H37.50" stroke="#111" stroke-width="0.95" fill="none"/>
<text x="31.30" y="401.55" font-size="7.4" text-anchor="end" font-weight="normal" fill="#1e1e1e"  textLength="3.46" lengthAdjust="spacingAndGlyphs" stroke="#1e1e1e" stroke-width="0.1">0</text>
<path d="M34.40,384.77 H37.50" stroke="#111" stroke-width="0.95" fill="none"/>
<text x="31.30" y="387.42" font-size="7.4" text-anchor="end" font-weight="normal" fill="#1e1e1e"  textLength="8.64" lengthAdjust="spacingAndGlyphs" stroke="#1e1e1e" stroke-width="0.1">0.5</text>
<path d="M34.40,370.64 H37.50" stroke="#111" stroke-width="0.95" fill="none"/>
<text x="31.30" y="373.29" font-size="7.4" text-anchor="end" font-weight="normal" fill="#1e1e1e"  textLength="8.64" lengthAdjust="spacingAndGlyphs" stroke="#1e1e1e" stroke-width="0.1">1.0</text>
<path d="M34.40,356.51 H37.50" stroke="#111" stroke-width="0.95" fill="none"/>
<text x="31.30" y="359.16" font-size="7.4" text-anchor="end" font-weight="normal" fill="#1e1e1e"  textLength="8.64" lengthAdjust="spacingAndGlyphs" stroke="#1e1e1e" stroke-width="0.1">1.5</text>
<path d="M34.40,342.39 H37.50" stroke="#111" stroke-width="0.95" fill="none"/>
<text x="31.30" y="345.04" font-size="7.4" text-anchor="end" font-weight="normal" fill="#1e1e1e"  textLength="8.64" lengthAdjust="spacingAndGlyphs" stroke="#1e1e1e" stroke-width="0.1">2.0</text>
<path d="M34.40,328.26 H37.50" stroke="#111" stroke-width="0.95" fill="none"/>
<text x="31.30" y="330.91" font-size="7.4" text-anchor="end" font-weight="normal" fill="#1e1e1e"  textLength="8.64" lengthAdjust="spacingAndGlyphs" stroke="#1e1e1e" stroke-width="0.1">2.5</text>
<path d="M34.40,314.13 H37.50" stroke="#111" stroke-width="0.95" fill="none"/>
<text x="31.30" y="316.78" font-size="7.4" text-anchor="end" font-weight="normal" fill="#1e1e1e"  textLength="8.64" lengthAdjust="spacingAndGlyphs" stroke="#1e1e1e" stroke-width="0.1">3.0</text>
<path d="M34.40,300.00 H37.50" stroke="#111" stroke-width="0.95" fill="none"/>
<text x="31.30" y="302.65" font-size="7.4" text-anchor="end" font-weight="normal" fill="#1e1e1e"  textLength="8.64" lengthAdjust="spacingAndGlyphs" stroke="#1e1e1e" stroke-width="0.1">3.5</text>
<path d="M47.50,302.00 Q47.50,300.00 48.40,300.00 L104.60,300.00 Q105.50,300.00 105.50,302.00" fill="none" stroke="#303030" stroke-width="1.2"/>
<text x="76.50" y="300.20" font-size="5.2" text-anchor="middle" font-weight="normal" fill="#333"  stroke="#333" stroke-width="0.15">**</text>
<path d="M66.50,310.50 Q66.50,308.50 67.40,308.50 L104.60,308.50 Q105.50,308.50 105.50,310.50" fill="none" stroke="#303030" stroke-width="1.2"/>
<text x="86.00" y="308.70" font-size="5.2" text-anchor="middle" font-weight="normal" fill="#333"  stroke="#333" stroke-width="0.15">**</text>
<path d="M85.75,319.00 Q85.75,317.00 86.65,317.00 L104.60,317.00 Q105.50,317.00 105.50,319.00" fill="none" stroke="#303030" stroke-width="1.2"/>
<text x="95.62" y="317.20" font-size="5.2" text-anchor="middle" font-weight="normal" fill="#333"  stroke="#333" stroke-width="0.15">**</text>
<text transform="translate(17.00,347.80) rotate(-90)" font-size="7.9" text-anchor="middle" fill="#1e1e1e" textLength="82.0" lengthAdjust="spacingAndGlyphs" stroke="#1e1e1e" stroke-width="0.16">Cl./total caspase-3 FC (x10)</text>
<path d="M196.75,398.00 V397.40 M193.15,397.40 H200.35" stroke="#3a3a3a" stroke-width="1.1" fill="none"/>
<rect x="189.25" y="398.00" width="15.00" height="0.90" fill="#a3002b"/>
<path d="M215.85,362.25 V354.50 M212.25,354.50 H219.45" stroke="#3a3a3a" stroke-width="1.1" fill="none"/>
<rect x="208.50" y="362.25" width="14.70" height="36.65" fill="#62a73c"/>
<path d="M234.90,328.00 V323.25 M231.30,323.25 H238.50" stroke="#3a3a3a" stroke-width="1.1" fill="none"/>
<rect x="227.50" y="328.00" width="14.80" height="70.90" fill="#4d5567"/>
<path d="M167.50,297.80 V399.40" stroke="#0a0a0a" stroke-width="1.4" fill="none"/>
<path d="M164.50,398.90 H245.10" stroke="#0a0a0a" stroke-width="1.25" fill="none"/>
<path d="M164.40,398.90 H167.50" stroke="#111" stroke-width="0.95" fill="none"/>
<text x="161.30" y="401.55" font-size="7.4" text-anchor="end" font-weight="normal" fill="#1e1e1e"  textLength="3.46" lengthAdjust="spacingAndGlyphs" stroke="#1e1e1e" stroke-width="0.1">0</text>
<path d="M164.40,374.17 H167.50" stroke="#111" stroke-width="0.95" fill="none"/>
<text x="161.30" y="376.82" font-size="7.4" text-anchor="end" font-weight="normal" fill="#1e1e1e"  textLength="8.64" lengthAdjust="spacingAndGlyphs" stroke="#1e1e1e" stroke-width="0.1">1.0</text>
<path d="M164.40,349.45 H167.50" stroke="#111" stroke-width="0.95" fill="none"/>
<text x="161.30" y="352.10" font-size="7.4" text-anchor="end" font-weight="normal" fill="#1e1e1e"  textLength="8.64" lengthAdjust="spacingAndGlyphs" stroke="#1e1e1e" stroke-width="0.1">2.0</text>
<path d="M164.40,324.73 H167.50" stroke="#111" stroke-width="0.95" fill="none"/>
<text x="161.30" y="327.38" font-size="7.4" text-anchor="end" font-weight="normal" fill="#1e1e1e"  textLength="8.64" lengthAdjust="spacingAndGlyphs" stroke="#1e1e1e" stroke-width="0.1">3.0</text>
<path d="M164.40,300.00 H167.50" stroke="#111" stroke-width="0.95" fill="none"/>
<text x="161.30" y="302.65" font-size="7.4" text-anchor="end" font-weight="normal" fill="#1e1e1e"  textLength="8.64" lengthAdjust="spacingAndGlyphs" stroke="#1e1e1e" stroke-width="0.1">4.0</text>
<path d="M177.50,302.50 Q177.50,300.50 178.40,300.50 L234.10,300.50 Q235.00,300.50 235.00,302.50" fill="none" stroke="#303030" stroke-width="1.2"/>
<text x="206.25" y="300.70" font-size="5.2" text-anchor="middle" font-weight="normal" fill="#333"  stroke="#333" stroke-width="0.15">***</text>
<path d="M196.50,311.25 Q196.50,309.25 197.40,309.25 L234.10,309.25 Q235.00,309.25 235.00,311.25" fill="none" stroke="#303030" stroke-width="1.2"/>
<text x="215.75" y="309.45" font-size="5.2" text-anchor="middle" font-weight="normal" fill="#333"  stroke="#333" stroke-width="0.15">***</text>
<path d="M215.75,319.00 Q215.75,317.00 216.65,317.00 L234.10,317.00 Q235.00,317.00 235.00,319.00" fill="none" stroke="#303030" stroke-width="1.2"/>
<text x="225.38" y="317.20" font-size="5.2" text-anchor="middle" font-weight="normal" fill="#333"  stroke="#333" stroke-width="0.15">**</text>
<path d="M177.50,352.25 Q177.50,350.25 178.40,350.25 L214.85,350.25 Q215.75,350.25 215.75,352.25" fill="none" stroke="#303030" stroke-width="1.2"/>
<text x="196.62" y="350.45" font-size="5.2" text-anchor="middle" font-weight="normal" fill="#333"  stroke="#333" stroke-width="0.15">**</text>
<text transform="translate(147.00,351.00) rotate(-90)" font-size="7.9" text-anchor="middle" fill="#1e1e1e" textLength="88.0" lengthAdjust="spacingAndGlyphs" stroke="#1e1e1e" stroke-width="0.16">Cl./total caspase-3 FC (x10<tspan font-size="4.6" dy="-2.6">2</tspan><tspan dy="2.6">)</tspan></text>
<rect x="299.25" y="392.50" width="15.00" height="6.40" fill="#2b4a7c"/>
<path d="M326.00,366.75 V363.75 M322.40,363.75 H329.60" stroke="#3a3a3a" stroke-width="1.1" fill="none"/>
<rect x="318.50" y="366.75" width="15.00" height="32.15" fill="#a3002b"/>
<path d="M345.25,380.25 V378.75 M341.65,378.75 H348.85" stroke="#3a3a3a" stroke-width="1.1" fill="none"/>
<rect x="337.75" y="380.25" width="15.00" height="18.65" fill="#62a73c"/>
<path d="M364.40,323.75 V321.25 M360.80,321.25 H368.00" stroke="#3a3a3a" stroke-width="1.1" fill="none"/>
<rect x="357.00" y="323.75" width="14.80" height="75.15" fill="#4d5567"/>
<path d="M297.50,297.80 V399.40" stroke="#0a0a0a" stroke-width="1.4" fill="none"/>
<path d="M294.50,398.90 H374.60" stroke="#0a0a0a" stroke-width="1.25" fill="none"/>
<path d="M294.40,398.90 H297.50" stroke="#111" stroke-width="0.95" fill="none"/>
<text x="291.30" y="401.55" font-size="7.4" text-anchor="end" font-weight="normal" fill="#1e1e1e"  textLength="3.46" lengthAdjust="spacingAndGlyphs" stroke="#1e1e1e" stroke-width="0.1">0</text>
<path d="M294.40,379.12 H297.50" stroke="#111" stroke-width="0.95" fill="none"/>
<text x="291.30" y="381.77" font-size="7.4" text-anchor="end" font-weight="normal" fill="#1e1e1e"  textLength="8.64" lengthAdjust="spacingAndGlyphs" stroke="#1e1e1e" stroke-width="0.1">0.3</text>
<path d="M294.40,359.34 H297.50" stroke="#111" stroke-width="0.95" fill="none"/>
<text x="291.30" y="361.99" font-size="7.4" text-anchor="end" font-weight="normal" fill="#1e1e1e"  textLength="8.64" lengthAdjust="spacingAndGlyphs" stroke="#1e1e1e" stroke-width="0.1">0.6</text>
<path d="M294.40,339.56 H297.50" stroke="#111" stroke-width="0.95" fill="none"/>
<text x="291.30" y="342.21" font-size="7.4" text-anchor="end" font-weight="normal" fill="#1e1e1e"  textLength="8.64" lengthAdjust="spacingAndGlyphs" stroke="#1e1e1e" stroke-width="0.1">0.9</text>
<path d="M294.40,319.78 H297.50" stroke="#111" stroke-width="0.95" fill="none"/>
<text x="291.30" y="322.43" font-size="7.4" text-anchor="end" font-weight="normal" fill="#1e1e1e"  textLength="8.64" lengthAdjust="spacingAndGlyphs" stroke="#1e1e1e" stroke-width="0.1">1.2</text>
<path d="M294.40,300.00 H297.50" stroke="#111" stroke-width="0.95" fill="none"/>
<text x="291.30" y="302.65" font-size="7.4" text-anchor="end" font-weight="normal" fill="#1e1e1e"  textLength="8.64" lengthAdjust="spacingAndGlyphs" stroke="#1e1e1e" stroke-width="0.1">1.5</text>
<path d="M306.75,301.50 Q306.75,299.50 307.65,299.50 L363.60,299.50 Q364.50,299.50 364.50,301.50" fill="none" stroke="#303030" stroke-width="1.2"/>
<text x="335.62" y="299.70" font-size="5.2" text-anchor="middle" font-weight="normal" fill="#333"  stroke="#333" stroke-width="0.15">**</text>
<path d="M325.75,309.75 Q325.75,307.75 326.65,307.75 L363.60,307.75 Q364.50,307.75 364.50,309.75" fill="none" stroke="#303030" stroke-width="1.2"/>
<text x="345.12" y="307.95" font-size="5.2" text-anchor="middle" font-weight="normal" fill="#333"  stroke="#333" stroke-width="0.15">**</text>
<path d="M345.00,318.00 Q345.00,316.00 345.90,316.00 L363.60,316.00 Q364.50,316.00 364.50,318.00" fill="none" stroke="#303030" stroke-width="1.2"/>
<text x="354.75" y="316.20" font-size="5.2" text-anchor="middle" font-weight="normal" fill="#333"  stroke="#333" stroke-width="0.15">**</text>
<path d="M306.75,352.75 Q306.75,350.75 307.65,350.75 L344.35,350.75 Q345.25,350.75 345.25,352.75" fill="none" stroke="#303030" stroke-width="1.2"/>
<text x="326.00" y="350.95" font-size="5.2" text-anchor="middle" font-weight="normal" fill="#333"  stroke="#333" stroke-width="0.15">**</text>
<path d="M306.75,361.25 Q306.75,359.25 307.65,359.25 L325.10,359.25 Q326.00,359.25 326.00,361.25" fill="none" stroke="#303030" stroke-width="1.2"/>
<text x="316.38" y="359.45" font-size="5.2" text-anchor="middle" font-weight="normal" fill="#333"  stroke="#333" stroke-width="0.15">**</text>
<text transform="translate(277.00,347.80) rotate(-90)" font-size="7.9" text-anchor="middle" fill="#1e1e1e" textLength="82.0" lengthAdjust="spacingAndGlyphs" stroke="#1e1e1e" stroke-width="0.16">Cl./total caspase-3 FC (x10)</text>
<rect x="425.75" y="349.50" width="15.00" height="49.40" fill="#2b4a7c"/>
<path d="M452.40,352.75 V329.50 M448.80,329.50 H456.00" stroke="#3a3a3a" stroke-width="1.1" fill="none"/>
<rect x="445.00" y="352.75" width="14.80" height="46.15" fill="#a3002b"/>
<path d="M471.50,341.00 V310.00 M467.90,310.00 H475.10" stroke="#3a3a3a" stroke-width="1.1" fill="none"/>
<rect x="464.00" y="341.00" width="15.00" height="57.90" fill="#62a73c"/>
<path d="M490.62,351.25 V336.50 M487.02,336.50 H494.23" stroke="#3a3a3a" stroke-width="1.1" fill="none"/>
<rect x="483.25" y="351.25" width="14.75" height="47.65" fill="#4d5567"/>
<path d="M423.50,297.80 V399.40" stroke="#0a0a0a" stroke-width="1.4" fill="none"/>
<path d="M420.50,398.90 H500.80" stroke="#0a0a0a" stroke-width="1.25" fill="none"/>
<path d="M420.40,398.90 H423.50" stroke="#111" stroke-width="0.95" fill="none"/>
<text x="417.30" y="401.55" font-size="7.4" text-anchor="end" font-weight="normal" fill="#1e1e1e"  textLength="3.46" lengthAdjust="spacingAndGlyphs" stroke="#1e1e1e" stroke-width="0.1">0</text>
<path d="M420.40,374.17 H423.50" stroke="#111" stroke-width="0.95" fill="none"/>
<text x="417.30" y="376.82" font-size="7.4" text-anchor="end" font-weight="normal" fill="#1e1e1e"  textLength="8.64" lengthAdjust="spacingAndGlyphs" stroke="#1e1e1e" stroke-width="0.1">0.5</text>
<path d="M420.40,349.45 H423.50" stroke="#111" stroke-width="0.95" fill="none"/>
<text x="417.30" y="352.10" font-size="7.4" text-anchor="end" font-weight="normal" fill="#1e1e1e"  textLength="8.64" lengthAdjust="spacingAndGlyphs" stroke="#1e1e1e" stroke-width="0.1">1.0</text>
<path d="M420.40,324.73 H423.50" stroke="#111" stroke-width="0.95" fill="none"/>
<text x="417.30" y="327.38" font-size="7.4" text-anchor="end" font-weight="normal" fill="#1e1e1e"  textLength="8.64" lengthAdjust="spacingAndGlyphs" stroke="#1e1e1e" stroke-width="0.1">1.5</text>
<path d="M420.40,300.00 H423.50" stroke="#111" stroke-width="0.95" fill="none"/>
<text x="417.30" y="302.65" font-size="7.4" text-anchor="end" font-weight="normal" fill="#1e1e1e"  textLength="8.64" lengthAdjust="spacingAndGlyphs" stroke="#1e1e1e" stroke-width="0.1">2.0</text>
<text transform="translate(402.00,349.00) rotate(-90)" font-size="7.9" text-anchor="middle" fill="#1e1e1e" textLength="63.5" lengthAdjust="spacingAndGlyphs" stroke="#1e1e1e" stroke-width="0.16">Cl./total caspase-3 FC</text>
<path d="M66.75,523.50 V522.25 M63.15,522.25 H70.35" stroke="#3a3a3a" stroke-width="1.1" fill="none"/>
<rect x="59.25" y="523.50" width="15.00" height="4.75" fill="#a3002b"/>
<path d="M86.00,524.25 V522.25 M82.40,522.25 H89.60" stroke="#3a3a3a" stroke-width="1.1" fill="none"/>
<rect x="78.50" y="524.25" width="15.00" height="4.00" fill="#62a73c"/>
<path d="M105.25,466.75 V437.50 M101.65,437.50 H108.85" stroke="#3a3a3a" stroke-width="1.1" fill="none"/>
<rect x="97.75" y="466.75" width="15.00" height="61.50" fill="#4d5567"/>
<path d="M37.50,427.30 V528.75" stroke="#0a0a0a" stroke-width="1.4" fill="none"/>
<path d="M34.50,528.25 H115.55" stroke="#0a0a0a" stroke-width="1.25" fill="none"/>
<path d="M34.40,528.25 H37.50" stroke="#111" stroke-width="0.95" fill="none"/>
<text x="31.30" y="530.90" font-size="7.4" text-anchor="end" font-weight="normal" fill="#1e1e1e"  textLength="3.46" lengthAdjust="spacingAndGlyphs" stroke="#1e1e1e" stroke-width="0.1">0</text>
<path d="M34.40,508.50 H37.50" stroke="#111" stroke-width="0.95" fill="none"/>
<text x="31.30" y="511.15" font-size="7.4" text-anchor="end" font-weight="normal" fill="#1e1e1e"  textLength="8.64" lengthAdjust="spacingAndGlyphs" stroke="#1e1e1e" stroke-width="0.1">0.5</text>
<path d="M34.40,488.75 H37.50" stroke="#111" stroke-width="0.95" fill="none"/>
<text x="31.30" y="491.40" font-size="7.4" text-anchor="end" font-weight="normal" fill="#1e1e1e"  textLength="8.64" lengthAdjust="spacingAndGlyphs" stroke="#1e1e1e" stroke-width="0.1">1.0</text>
<path d="M34.40,469.00 H37.50" stroke="#111" stroke-width="0.95" fill="none"/>
<text x="31.30" y="471.65" font-size="7.4" text-anchor="end" font-weight="normal" fill="#1e1e1e"  textLength="8.64" lengthAdjust="spacingAndGlyphs" stroke="#1e1e1e" stroke-width="0.1">1.5</text>
<path d="M34.40,449.25 H37.50" stroke="#111" stroke-width="0.95" fill="none"/>
<text x="31.30" y="451.90" font-size="7.4" text-anchor="end" font-weight="normal" fill="#1e1e1e"  textLength="8.64" lengthAdjust="spacingAndGlyphs" stroke="#1e1e1e" stroke-width="0.1">2.0</text>
<path d="M34.40,429.50 H37.50" stroke="#111" stroke-width="0.95" fill="none"/>
<text x="31.30" y="432.15" font-size="7.4" text-anchor="end" font-weight="normal" fill="#1e1e1e"  textLength="8.64" lengthAdjust="spacingAndGlyphs" stroke="#1e1e1e" stroke-width="0.1">2.5</text>
<path d="M47.50,418.50 Q47.50,416.50 48.40,416.50 L104.60,416.50 Q105.50,416.50 105.50,418.50" fill="none" stroke="#303030" stroke-width="1.2"/>
<text x="76.50" y="416.70" font-size="5.2" text-anchor="middle" font-weight="normal" fill="#333"  stroke="#333" stroke-width="0.15">*</text>
<path d="M66.50,426.75 Q66.50,424.75 67.40,424.75 L104.60,424.75 Q105.50,424.75 105.50,426.75" fill="none" stroke="#303030" stroke-width="1.2"/>
<text x="86.00" y="424.95" font-size="5.2" text-anchor="middle" font-weight="normal" fill="#333"  stroke="#333" stroke-width="0.15">*</text>
<path d="M85.75,435.25 Q85.75,433.25 86.65,433.25 L104.60,433.25 Q105.50,433.25 105.50,435.25" fill="none" stroke="#303030" stroke-width="1.2"/>
<text x="95.62" y="433.45" font-size="5.2" text-anchor="middle" font-weight="normal" fill="#333"  stroke="#333" stroke-width="0.15">*</text>
<text transform="translate(17.00,481.00) rotate(-90)" font-size="7.9" text-anchor="middle" fill="#1e1e1e" textLength="82.0" lengthAdjust="spacingAndGlyphs" stroke="#1e1e1e" stroke-width="0.16">Cl./total PARP1 FC (x10<tspan font-size="4.6" dy="-2.6">2</tspan><tspan dy="2.6">)</tspan></text>
<text x="47.50" y="536.60" font-size="6.0" text-anchor="middle" font-weight="normal" fill="#444"  stroke="#444" stroke-width="0.12">-</text>
<text x="66.75" y="536.82" font-size="5.6" text-anchor="middle" font-weight="normal" fill="#3a3a3a"  stroke="#3a3a3a" stroke-width="0.28">+</text>
<text x="86.00" y="536.60" font-size="6.0" text-anchor="middle" font-weight="normal" fill="#444"  stroke="#444" stroke-width="0.12">-</text>
<text x="105.25" y="536.82" font-size="5.6" text-anchor="middle" font-weight="normal" fill="#3a3a3a"  stroke="#3a3a3a" stroke-width="0.28">+</text>
<text x="47.50" y="546.80" font-size="6.0" text-anchor="middle" font-weight="normal" fill="#444"  stroke="#444" stroke-width="0.12">-</text>
<text x="66.75" y="546.80" font-size="6.0" text-anchor="middle" font-weight="normal" fill="#444"  stroke="#444" stroke-width="0.12">-</text>
<text x="86.00" y="547.02" font-size="5.6" text-anchor="middle" font-weight="normal" fill="#3a3a3a"  stroke="#3a3a3a" stroke-width="0.28">+</text>
<text x="105.25" y="547.02" font-size="5.6" text-anchor="middle" font-weight="normal" fill="#3a3a3a"  stroke="#3a3a3a" stroke-width="0.28">+</text>
<text x="115.75" y="536.60" font-size="6.5" text-anchor="start" font-weight="normal" fill="#1e1e1e"  stroke="#1e1e1e" stroke-width="0.08">Duv</text>
<text x="115.75" y="546.70" font-size="6.5" text-anchor="start" font-weight="normal" fill="#1e1e1e"  stroke="#1e1e1e" stroke-width="0.08">Ven</text>
<rect x="189.25" y="527.50" width="15.00" height="0.75" fill="#a3002b"/>
<path d="M215.85,522.75 V521.00 M212.25,521.00 H219.45" stroke="#3a3a3a" stroke-width="1.1" fill="none"/>
<rect x="208.50" y="522.75" width="14.70" height="5.50" fill="#62a73c"/>
<path d="M234.90,473.75 V454.75 M231.30,454.75 H238.50" stroke="#3a3a3a" stroke-width="1.1" fill="none"/>
<rect x="227.50" y="473.75" width="14.80" height="54.50" fill="#4d5567"/>
<path d="M167.50,427.30 V528.75" stroke="#0a0a0a" stroke-width="1.4" fill="none"/>
<path d="M164.50,528.25 H245.10" stroke="#0a0a0a" stroke-width="1.25" fill="none"/>
<path d="M164.40,528.25 H167.50" stroke="#111" stroke-width="0.95" fill="none"/>
<text x="161.30" y="530.90" font-size="7.4" text-anchor="end" font-weight="normal" fill="#1e1e1e"  textLength="3.46" lengthAdjust="spacingAndGlyphs" stroke="#1e1e1e" stroke-width="0.1">0</text>
<path d="M164.40,503.56 H167.50" stroke="#111" stroke-width="0.95" fill="none"/>
<text x="161.30" y="506.21" font-size="7.4" text-anchor="end" font-weight="normal" fill="#1e1e1e"  textLength="8.64" lengthAdjust="spacingAndGlyphs" stroke="#1e1e1e" stroke-width="0.1">1.0</text>
<path d="M164.40,478.88 H167.50" stroke="#111" stroke-width="0.95" fill="none"/>
<text x="161.30" y="481.52" font-size="7.4" text-anchor="end" font-weight="normal" fill="#1e1e1e"  textLength="8.64" lengthAdjust="spacingAndGlyphs" stroke="#1e1e1e" stroke-width="0.1">2.0</text>
<path d="M164.40,454.19 H167.50" stroke="#111" stroke-width="0.95" fill="none"/>
<text x="161.30" y="456.84" font-size="7.4" text-anchor="end" font-weight="normal" fill="#1e1e1e"  textLength="8.64" lengthAdjust="spacingAndGlyphs" stroke="#1e1e1e" stroke-width="0.1">3.0</text>
<path d="M164.40,429.50 H167.50" stroke="#111" stroke-width="0.95" fill="none"/>
<text x="161.30" y="432.15" font-size="7.4" text-anchor="end" font-weight="normal" fill="#1e1e1e"  textLength="8.64" lengthAdjust="spacingAndGlyphs" stroke="#1e1e1e" stroke-width="0.1">4.0</text>
<path d="M177.50,434.50 Q177.50,432.50 178.40,432.50 L234.10,432.50 Q235.00,432.50 235.00,434.50" fill="none" stroke="#303030" stroke-width="1.2"/>
<text x="206.25" y="432.70" font-size="5.2" text-anchor="middle" font-weight="normal" fill="#333"  stroke="#333" stroke-width="0.15">**</text>
<path d="M196.50,443.25 Q196.50,441.25 197.40,441.25 L234.10,441.25 Q235.00,441.25 235.00,443.25" fill="none" stroke="#303030" stroke-width="1.2"/>
<text x="215.75" y="441.45" font-size="5.2" text-anchor="middle" font-weight="normal" fill="#333"  stroke="#333" stroke-width="0.15">**</text>
<path d="M215.75,452.00 Q215.75,450.00 216.65,450.00 L234.10,450.00 Q235.00,450.00 235.00,452.00" fill="none" stroke="#303030" stroke-width="1.2"/>
<text x="225.38" y="450.20" font-size="5.2" text-anchor="middle" font-weight="normal" fill="#333"  stroke="#333" stroke-width="0.15">*</text>
<text transform="translate(147.00,481.00) rotate(-90)" font-size="7.9" text-anchor="middle" fill="#1e1e1e" textLength="82.0" lengthAdjust="spacingAndGlyphs" stroke="#1e1e1e" stroke-width="0.16">Cl./total PARP1 FC (x10<tspan font-size="4.6" dy="-2.6">2</tspan><tspan dy="2.6">)</tspan></text>
<text x="177.50" y="536.60" font-size="6.0" text-anchor="middle" font-weight="normal" fill="#444"  stroke="#444" stroke-width="0.12">-</text>
<text x="196.75" y="536.82" font-size="5.6" text-anchor="middle" font-weight="normal" fill="#3a3a3a"  stroke="#3a3a3a" stroke-width="0.28">+</text>
<text x="215.85" y="536.60" font-size="6.0" text-anchor="middle" font-weight="normal" fill="#444"  stroke="#444" stroke-width="0.12">-</text>
<text x="234.90" y="536.82" font-size="5.6" text-anchor="middle" font-weight="normal" fill="#3a3a3a"  stroke="#3a3a3a" stroke-width="0.28">+</text>
<text x="177.50" y="546.80" font-size="6.0" text-anchor="middle" font-weight="normal" fill="#444"  stroke="#444" stroke-width="0.12">-</text>
<text x="196.75" y="546.80" font-size="6.0" text-anchor="middle" font-weight="normal" fill="#444"  stroke="#444" stroke-width="0.12">-</text>
<text x="215.85" y="547.02" font-size="5.6" text-anchor="middle" font-weight="normal" fill="#3a3a3a"  stroke="#3a3a3a" stroke-width="0.28">+</text>
<text x="234.90" y="547.02" font-size="5.6" text-anchor="middle" font-weight="normal" fill="#3a3a3a"  stroke="#3a3a3a" stroke-width="0.28">+</text>
<text x="245.30" y="536.60" font-size="6.5" text-anchor="start" font-weight="normal" fill="#1e1e1e"  stroke="#1e1e1e" stroke-width="0.08">Duv</text>
<text x="245.30" y="546.70" font-size="6.5" text-anchor="start" font-weight="normal" fill="#1e1e1e"  stroke="#1e1e1e" stroke-width="0.08">Ven</text>
<path d="M326.00,522.75 V521.50 M322.40,521.50 H329.60" stroke="#3a3a3a" stroke-width="1.1" fill="none"/>
<rect x="318.50" y="522.75" width="15.00" height="5.50" fill="#a3002b"/>
<path d="M345.25,527.25 V526.60 M341.65,526.60 H348.85" stroke="#3a3a3a" stroke-width="1.1" fill="none"/>
<rect x="337.75" y="527.25" width="15.00" height="1.00" fill="#62a73c"/>
<path d="M364.40,467.00 V445.00 M360.80,445.00 H368.00" stroke="#3a3a3a" stroke-width="1.1" fill="none"/>
<rect x="357.00" y="467.00" width="14.80" height="61.25" fill="#4d5567"/>
<path d="M297.50,427.30 V528.75" stroke="#0a0a0a" stroke-width="1.4" fill="none"/>
<path d="M294.50,528.25 H374.60" stroke="#0a0a0a" stroke-width="1.25" fill="none"/>
<path d="M294.40,528.25 H297.50" stroke="#111" stroke-width="0.95" fill="none"/>
<text x="291.30" y="530.90" font-size="7.4" text-anchor="end" font-weight="normal" fill="#1e1e1e"  textLength="3.46" lengthAdjust="spacingAndGlyphs" stroke="#1e1e1e" stroke-width="0.1">0</text>
<path d="M294.40,503.56 H297.50" stroke="#111" stroke-width="0.95" fill="none"/>
<text x="291.30" y="506.21" font-size="7.4" text-anchor="end" font-weight="normal" fill="#1e1e1e"  textLength="8.64" lengthAdjust="spacingAndGlyphs" stroke="#1e1e1e" stroke-width="0.1">2.0</text>
<path d="M294.40,478.88 H297.50" stroke="#111" stroke-width="0.95" fill="none"/>
<text x="291.30" y="481.52" font-size="7.4" text-anchor="end" font-weight="normal" fill="#1e1e1e"  textLength="8.64" lengthAdjust="spacingAndGlyphs" stroke="#1e1e1e" stroke-width="0.1">4.0</text>
<path d="M294.40,454.19 H297.50" stroke="#111" stroke-width="0.95" fill="none"/>
<text x="291.30" y="456.84" font-size="7.4" text-anchor="end" font-weight="normal" fill="#1e1e1e"  textLength="8.64" lengthAdjust="spacingAndGlyphs" stroke="#1e1e1e" stroke-width="0.1">6.0</text>
<path d="M294.40,429.50 H297.50" stroke="#111" stroke-width="0.95" fill="none"/>
<text x="291.30" y="432.15" font-size="7.4" text-anchor="end" font-weight="normal" fill="#1e1e1e"  textLength="8.64" lengthAdjust="spacingAndGlyphs" stroke="#1e1e1e" stroke-width="0.1">8.0</text>
<path d="M306.75,425.25 Q306.75,423.25 307.65,423.25 L363.60,423.25 Q364.50,423.25 364.50,425.25" fill="none" stroke="#303030" stroke-width="1.2"/>
<text x="335.62" y="423.45" font-size="5.2" text-anchor="middle" font-weight="normal" fill="#333"  stroke="#333" stroke-width="0.15">**</text>
<path d="M325.75,433.75 Q325.75,431.75 326.65,431.75 L363.60,431.75 Q364.50,431.75 364.50,433.75" fill="none" stroke="#303030" stroke-width="1.2"/>
<text x="345.12" y="431.95" font-size="5.2" text-anchor="middle" font-weight="normal" fill="#333"  stroke="#333" stroke-width="0.15">*</text>
<path d="M345.00,442.25 Q345.00,440.25 345.90,440.25 L363.60,440.25 Q364.50,440.25 364.50,442.25" fill="none" stroke="#303030" stroke-width="1.2"/>
<text x="354.75" y="440.45" font-size="5.2" text-anchor="middle" font-weight="normal" fill="#333"  stroke="#333" stroke-width="0.15">**</text>
<text transform="translate(277.00,481.00) rotate(-90)" font-size="7.9" text-anchor="middle" fill="#1e1e1e" textLength="82.0" lengthAdjust="spacingAndGlyphs" stroke="#1e1e1e" stroke-width="0.16">Cl./total PARP1 FC (x10<tspan font-size="4.6" dy="-2.6">2</tspan><tspan dy="2.6">)</tspan></text>
<text x="306.75" y="536.60" font-size="6.0" text-anchor="middle" font-weight="normal" fill="#444"  stroke="#444" stroke-width="0.12">-</text>
<text x="326.00" y="536.82" font-size="5.6" text-anchor="middle" font-weight="normal" fill="#3a3a3a"  stroke="#3a3a3a" stroke-width="0.28">+</text>
<text x="345.25" y="536.60" font-size="6.0" text-anchor="middle" font-weight="normal" fill="#444"  stroke="#444" stroke-width="0.12">-</text>
<text x="364.40" y="536.82" font-size="5.6" text-anchor="middle" font-weight="normal" fill="#3a3a3a"  stroke="#3a3a3a" stroke-width="0.28">+</text>
<text x="306.75" y="546.80" font-size="6.0" text-anchor="middle" font-weight="normal" fill="#444"  stroke="#444" stroke-width="0.12">-</text>
<text x="326.00" y="546.80" font-size="6.0" text-anchor="middle" font-weight="normal" fill="#444"  stroke="#444" stroke-width="0.12">-</text>
<text x="345.25" y="547.02" font-size="5.6" text-anchor="middle" font-weight="normal" fill="#3a3a3a"  stroke="#3a3a3a" stroke-width="0.28">+</text>
<text x="364.40" y="547.02" font-size="5.6" text-anchor="middle" font-weight="normal" fill="#3a3a3a"  stroke="#3a3a3a" stroke-width="0.28">+</text>
<text x="374.80" y="536.60" font-size="6.5" text-anchor="start" font-weight="normal" fill="#1e1e1e"  stroke="#1e1e1e" stroke-width="0.08">Duv</text>
<text x="374.80" y="546.70" font-size="6.5" text-anchor="start" font-weight="normal" fill="#1e1e1e"  stroke="#1e1e1e" stroke-width="0.08">Ven</text>
<rect x="425.75" y="503.75" width="15.00" height="24.50" fill="#2b4a7c"/>
<path d="M452.40,467.75 V459.75 M448.80,459.75 H456.00" stroke="#3a3a3a" stroke-width="1.1" fill="none"/>
<rect x="445.00" y="467.75" width="14.80" height="60.50" fill="#a3002b"/>
<path d="M471.50,483.25 V464.75 M467.90,464.75 H475.10" stroke="#3a3a3a" stroke-width="1.1" fill="none"/>
<rect x="464.00" y="483.25" width="15.00" height="45.00" fill="#62a73c"/>
<path d="M490.62,475.50 V455.00 M487.02,455.00 H494.23" stroke="#3a3a3a" stroke-width="1.1" fill="none"/>
<rect x="483.25" y="475.50" width="14.75" height="52.75" fill="#4d5567"/>
<path d="M423.50,427.30 V528.75" stroke="#0a0a0a" stroke-width="1.4" fill="none"/>
<path d="M420.50,528.25 H500.80" stroke="#0a0a0a" stroke-width="1.25" fill="none"/>
<path d="M420.40,528.25 H423.50" stroke="#111" stroke-width="0.95" fill="none"/>
<text x="417.30" y="530.90" font-size="7.4" text-anchor="end" font-weight="normal" fill="#1e1e1e"  textLength="3.46" lengthAdjust="spacingAndGlyphs" stroke="#1e1e1e" stroke-width="0.1">0</text>
<path d="M420.40,503.56 H423.50" stroke="#111" stroke-width="0.95" fill="none"/>
<text x="417.30" y="506.21" font-size="7.4" text-anchor="end" font-weight="normal" fill="#1e1e1e"  textLength="8.64" lengthAdjust="spacingAndGlyphs" stroke="#1e1e1e" stroke-width="0.1">1.0</text>
<path d="M420.40,478.88 H423.50" stroke="#111" stroke-width="0.95" fill="none"/>
<text x="417.30" y="481.52" font-size="7.4" text-anchor="end" font-weight="normal" fill="#1e1e1e"  textLength="8.64" lengthAdjust="spacingAndGlyphs" stroke="#1e1e1e" stroke-width="0.1">2.0</text>
<path d="M420.40,454.19 H423.50" stroke="#111" stroke-width="0.95" fill="none"/>
<text x="417.30" y="456.84" font-size="7.4" text-anchor="end" font-weight="normal" fill="#1e1e1e"  textLength="8.64" lengthAdjust="spacingAndGlyphs" stroke="#1e1e1e" stroke-width="0.1">3.0</text>
<path d="M420.40,429.50 H423.50" stroke="#111" stroke-width="0.95" fill="none"/>
<text x="417.30" y="432.15" font-size="7.4" text-anchor="end" font-weight="normal" fill="#1e1e1e"  textLength="8.64" lengthAdjust="spacingAndGlyphs" stroke="#1e1e1e" stroke-width="0.1">4.0</text>
<text transform="translate(402.00,481.00) rotate(-90)" font-size="7.9" text-anchor="middle" fill="#1e1e1e" textLength="60.5" lengthAdjust="spacingAndGlyphs" stroke="#1e1e1e" stroke-width="0.16">Cl./total PARP1 FC</text>
<text x="433.25" y="536.60" font-size="6.0" text-anchor="middle" font-weight="normal" fill="#444"  stroke="#444" stroke-width="0.12">-</text>
<text x="452.40" y="536.82" font-size="5.6" text-anchor="middle" font-weight="normal" fill="#3a3a3a"  stroke="#3a3a3a" stroke-width="0.28">+</text>
<text x="471.50" y="536.60" font-size="6.0" text-anchor="middle" font-weight="normal" fill="#444"  stroke="#444" stroke-width="0.12">-</text>
<text x="490.62" y="536.82" font-size="5.6" text-anchor="middle" font-weight="normal" fill="#3a3a3a"  stroke="#3a3a3a" stroke-width="0.28">+</text>
<text x="433.25" y="546.80" font-size="6.0" text-anchor="middle" font-weight="normal" fill="#444"  stroke="#444" stroke-width="0.12">-</text>
<text x="452.40" y="546.80" font-size="6.0" text-anchor="middle" font-weight="normal" fill="#444"  stroke="#444" stroke-width="0.12">-</text>
<text x="471.50" y="547.02" font-size="5.6" text-anchor="middle" font-weight="normal" fill="#3a3a3a"  stroke="#3a3a3a" stroke-width="0.28">+</text>
<text x="490.62" y="547.02" font-size="5.6" text-anchor="middle" font-weight="normal" fill="#3a3a3a"  stroke="#3a3a3a" stroke-width="0.28">+</text>
<text x="501.00" y="536.60" font-size="6.5" text-anchor="start" font-weight="normal" fill="#1e1e1e"  stroke="#1e1e1e" stroke-width="0.08">Duv</text>
<text x="501.00" y="546.70" font-size="6.5" text-anchor="start" font-weight="normal" fill="#1e1e1e"  stroke="#1e1e1e" stroke-width="0.08">Ven</text>
<rect x="33.50" y="577.25" width="88.00" height="15.50" fill="#1e3410" stroke="#858585" stroke-width="0.95"/>
<rect x="121.50" y="577.25" width="88.00" height="15.50" fill="#5e9e3e" stroke="#858585" stroke-width="0.95"/>
<rect x="209.50" y="577.25" width="88.00" height="15.50" fill="#5c9a3c" stroke="#858585" stroke-width="0.95"/>
<rect x="297.50" y="577.25" width="87.50" height="15.50" fill="#c42116" stroke="#858585" stroke-width="0.95"/>
<text x="29.60" y="587.40" font-size="6.5" text-anchor="end" font-weight="normal" fill="#1e1e1e"  textLength="6.65" lengthAdjust="spacingAndGlyphs" stroke="#1e1e1e" stroke-width="0.15">#1</text>
<rect x="33.50" y="592.75" width="88.00" height="15.50" fill="#0f1f07" stroke="#858585" stroke-width="0.95"/>
<rect x="121.50" y="592.75" width="88.00" height="15.50" fill="#62a542" stroke="#858585" stroke-width="0.95"/>
<rect x="209.50" y="592.75" width="88.00" height="15.50" fill="#78b040" stroke="#858585" stroke-width="0.95"/>
<rect x="297.50" y="592.75" width="87.50" height="15.50" fill="#2a0406" stroke="#858585" stroke-width="0.95"/>
<text x="29.60" y="602.90" font-size="6.5" text-anchor="end" font-weight="normal" fill="#1e1e1e"  textLength="6.65" lengthAdjust="spacingAndGlyphs" stroke="#1e1e1e" stroke-width="0.15">#2</text>
<rect x="33.50" y="608.25" width="88.00" height="15.50" fill="#3a6628" stroke="#858585" stroke-width="0.95"/>
<rect x="121.50" y="608.25" width="88.00" height="15.50" fill="#52903a" stroke="#858585" stroke-width="0.95"/>
<rect x="209.50" y="608.25" width="88.00" height="15.50" fill="#5a983c" stroke="#858585" stroke-width="0.95"/>
<rect x="297.50" y="608.25" width="87.50" height="15.50" fill="#150406" stroke="#858585" stroke-width="0.95"/>
<text x="29.60" y="618.40" font-size="6.5" text-anchor="end" font-weight="normal" fill="#1e1e1e"  textLength="6.65" lengthAdjust="spacingAndGlyphs" stroke="#1e1e1e" stroke-width="0.15">#3</text>
<rect x="33.50" y="623.75" width="88.00" height="15.50" fill="#264219" stroke="#858585" stroke-width="0.95"/>
<rect x="121.50" y="623.75" width="88.00" height="15.50" fill="#62a542" stroke="#858585" stroke-width="0.95"/>
<rect x="209.50" y="623.75" width="88.00" height="15.50" fill="#6aaa42" stroke="#858585" stroke-width="0.95"/>
<rect x="297.50" y="623.75" width="87.50" height="15.50" fill="#8e100c" stroke="#858585" stroke-width="0.95"/>
<text x="29.60" y="633.90" font-size="6.5" text-anchor="end" font-weight="normal" fill="#1e1e1e"  textLength="6.65" lengthAdjust="spacingAndGlyphs" stroke="#1e1e1e" stroke-width="0.15">#4</text>
<rect x="33.50" y="639.25" width="88.00" height="15.50" fill="#1e3811" stroke="#858585" stroke-width="0.95"/>
<rect x="121.50" y="639.25" width="88.00" height="15.50" fill="#60a040" stroke="#858585" stroke-width="0.95"/>
<rect x="209.50" y="639.25" width="88.00" height="15.50" fill="#3a6228" stroke="#858585" stroke-width="0.95"/>
<rect x="297.50" y="639.25" width="87.50" height="15.50" fill="#2a0305" stroke="#858585" stroke-width="0.95"/>
<text x="29.60" y="649.40" font-size="6.5" text-anchor="end" font-weight="normal" fill="#1e1e1e"  textLength="6.65" lengthAdjust="spacingAndGlyphs" stroke="#1e1e1e" stroke-width="0.15">#5</text>
<text x="77.00" y="574.00" font-size="6.7" text-anchor="middle" font-weight="normal" fill="#1e1e1e" textLength="22.1" lengthAdjust="spacingAndGlyphs" stroke="#1e1e1e" stroke-width="0.12">RS1316</text>
<text x="165.00" y="574.00" font-size="6.7" text-anchor="middle" font-weight="normal" fill="#1e1e1e" textLength="18.0" lengthAdjust="spacingAndGlyphs" stroke="#1e1e1e" stroke-width="0.12">IP867</text>
<text x="253.30" y="574.00" font-size="6.7" text-anchor="middle" font-weight="normal" fill="#1e1e1e" textLength="22.1" lengthAdjust="spacingAndGlyphs" stroke="#1e1e1e" stroke-width="0.12">RS9737</text>
<text x="341.50" y="574.00" font-size="6.7" text-anchor="middle" font-weight="normal" fill="#1e1e1e" textLength="22.2" lengthAdjust="spacingAndGlyphs" stroke="#1e1e1e" stroke-width="0.12">RS1050</text>
<rect x="400.8" y="577.4" width="13.4" height="77.2" fill="url(#cb)"/>
<text x="396.80" y="580.60" font-size="6.5" text-anchor="end" font-weight="normal" fill="#1e1e1e" >0</text>
<text x="396.80" y="595.20" font-size="6.5" text-anchor="end" font-weight="normal" fill="#1e1e1e" >1</text>
<text x="396.80" y="656.60" font-size="6.5" text-anchor="end" font-weight="normal" fill="#1e1e1e" >5</text>
<text x="417.80" y="580.60" font-size="6.5" text-anchor="start" font-weight="normal" fill="#1e1e1e" >synergystic</text>
<text x="417.80" y="595.20" font-size="6.5" text-anchor="start" font-weight="normal" fill="#1e1e1e" >additive</text>
<text x="417.80" y="656.60" font-size="6.5" text-anchor="start" font-weight="normal" fill="#1e1e1e" >antagonist</text>
<rect x="0" y="0" width="520" height="1" fill="#000"/><rect x="0" y="0" width="1" height="665" fill="#000"/><rect x="518.7" y="0" width="1.3" height="665" fill="#000"/><rect x="0" y="663.5" width="520" height="1.5" fill="#000"/>
</svg>
</body></html>
